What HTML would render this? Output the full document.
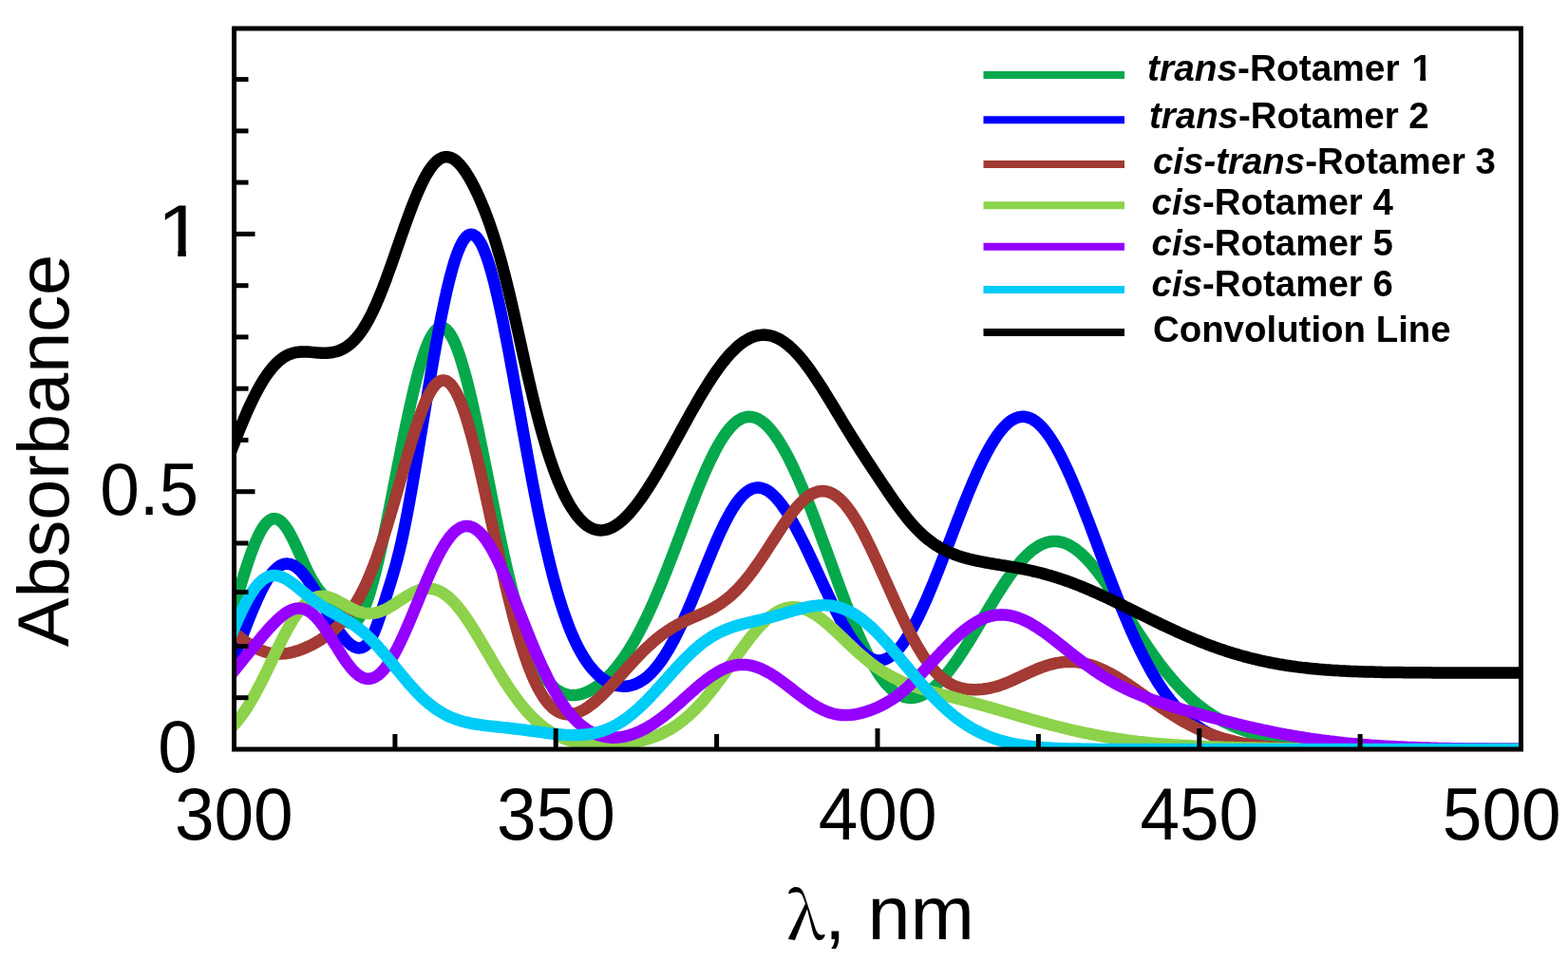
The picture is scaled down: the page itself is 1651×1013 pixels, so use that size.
<!DOCTYPE html>
<html><head><meta charset="utf-8"><title>Absorbance spectra</title>
<style>html,body{margin:0;padding:0;background:#fff;overflow:hidden;} svg{display:block;}</style>
</head><body>
<svg width="1651" height="1013" viewBox="0 0 1651 1013">
<rect x="0" y="0" width="1651" height="1013" fill="#fff"/>
<defs>
<clipPath id="pc"><rect x="246.5" y="30" width="1355.0" height="759"/></clipPath>
<clipPath id="c1"><rect x="-100" y="-200" width="200" height="193.41"/><rect x="-23.91" y="-20" width="7.45" height="40"/></clipPath>
<clipPath id="c1b_0"><rect x="270.95" y="-100" width="100" height="95.17"/><rect x="289.87" y="-20" width="6.02" height="40"/><rect x="-119.05" y="-100" width="390" height="200"/></clipPath></defs>
<g clip-path="url(#pc)" fill="none" stroke-width="12.5" stroke-linejoin="round" stroke-linecap="round">
<path d="M242.5 654.1 L244.5 647.2 L246.5 640.2 L248.5 633.3 L250.5 626.5 L252.5 619.7 L254.5 613.0 L256.5 606.4 L258.5 600.1 L260.5 593.9 L262.5 588.0 L264.5 582.3 L266.5 577.0 L268.5 572.0 L270.5 567.4 L272.5 563.1 L274.5 559.3 L276.5 556.0 L278.5 553.1 L280.5 550.7 L282.5 548.8 L284.5 547.4 L286.5 546.5 L288.5 546.1 L290.5 546.3 L292.5 546.9 L294.5 548.1 L296.5 549.7 L298.5 551.8 L300.5 554.3 L302.5 557.2 L304.5 560.5 L306.5 564.2 L308.5 568.1 L310.5 572.2 L312.5 576.5 L314.5 580.9 L316.5 585.4 L318.5 589.9 L320.5 594.3 L322.5 598.6 L324.5 602.7 L326.5 606.6 L328.5 610.2 L330.5 613.6 L332.5 616.7 L334.5 619.6 L336.5 622.3 L338.5 624.9 L340.5 627.2 L342.5 629.5 L344.5 631.8 L346.5 634.1 L348.5 636.4 L350.5 638.8 L352.5 641.2 L354.5 643.6 L356.5 646.1 L358.5 648.4 L360.5 650.6 L362.5 652.6 L364.5 654.2 L366.5 655.4 L368.5 656.1 L370.5 656.3 L372.5 655.8 L374.5 654.7 L376.5 652.9 L378.5 650.3 L380.5 647.0 L382.5 643.0 L384.5 638.3 L386.5 633.0 L388.5 627.1 L390.5 620.5 L392.5 613.5 L394.5 605.9 L396.5 597.9 L398.5 589.5 L400.5 580.8 L402.5 571.7 L404.5 562.3 L406.5 552.7 L408.5 542.9 L410.5 533.0 L412.5 522.9 L414.5 512.7 L416.5 502.5 L418.5 492.3 L420.5 482.2 L422.5 472.1 L424.5 462.1 L426.5 452.3 L428.5 442.8 L430.5 433.4 L432.5 424.3 L434.5 415.6 L436.5 407.2 L438.5 399.2 L440.5 391.7 L442.5 384.6 L444.5 378.0 L446.5 371.9 L448.5 366.4 L450.5 361.5 L452.5 357.1 L454.5 353.4 L456.5 350.4 L458.5 347.9 L460.5 346.2 L462.5 345.1 L464.5 344.7 L466.5 344.9 L468.5 345.9 L470.5 347.5 L472.5 349.7 L474.5 352.6 L476.5 356.1 L478.5 360.3 L480.5 365.0 L482.5 370.3 L484.5 376.2 L486.5 382.6 L488.5 389.4 L490.5 396.7 L492.5 404.4 L494.5 412.6 L496.5 421.0 L498.5 429.8 L500.5 438.9 L502.5 448.2 L504.5 457.7 L506.5 467.4 L508.5 477.2 L510.5 487.2 L512.5 497.1 L514.5 507.1 L516.5 517.1 L518.5 527.1 L520.5 537.0 L522.5 546.7 L524.5 556.4 L526.5 565.9 L528.5 575.2 L530.5 584.4 L532.5 593.3 L534.5 602.0 L536.5 610.4 L538.5 618.5 L540.5 626.4 L542.5 634.0 L544.5 641.3 L546.5 648.3 L548.5 655.0 L550.5 661.4 L552.5 667.4 L554.5 673.2 L556.5 678.6 L558.5 683.8 L560.5 688.6 L562.5 693.1 L564.5 697.4 L566.5 701.3 L568.5 705.0 L570.5 708.3 L572.5 711.5 L574.5 714.3 L576.5 716.9 L578.5 719.3 L580.5 721.4 L582.5 723.3 L584.5 725.0 L586.5 726.5 L588.5 727.8 L590.5 728.9 L592.5 729.9 L594.5 730.6 L596.5 731.2 L598.5 731.6 L600.5 731.9 L602.5 732.0 L604.5 732.0 L606.5 731.9 L608.5 731.6 L610.5 731.2 L612.5 730.7 L614.5 730.1 L616.5 729.4 L618.5 728.5 L620.5 727.6 L622.5 726.5 L624.5 725.4 L626.5 724.1 L628.5 722.7 L630.5 721.3 L632.5 719.7 L634.5 718.0 L636.5 716.3 L638.5 714.4 L640.5 712.4 L642.5 710.3 L644.5 708.2 L646.5 705.9 L648.5 703.5 L650.5 701.0 L652.5 698.4 L654.5 695.7 L656.5 692.9 L658.5 690.0 L660.5 687.0 L662.5 683.9 L664.5 680.6 L666.5 677.3 L668.5 673.8 L670.5 670.2 L672.5 666.5 L674.5 662.7 L676.5 658.8 L678.5 654.8 L680.5 650.7 L682.5 646.5 L684.5 642.1 L686.5 637.7 L688.5 633.2 L690.5 628.6 L692.5 623.9 L694.5 619.1 L696.5 614.3 L698.5 609.3 L700.5 604.3 L702.5 599.3 L704.5 594.1 L706.5 589.0 L708.5 583.8 L710.5 578.5 L712.5 573.2 L714.5 567.9 L716.5 562.6 L718.5 557.3 L720.5 552.0 L722.5 546.7 L724.5 541.4 L726.5 536.2 L728.5 531.0 L730.5 525.9 L732.5 520.8 L734.5 515.8 L736.5 510.9 L738.5 506.1 L740.5 501.3 L742.5 496.7 L744.5 492.2 L746.5 487.9 L748.5 483.6 L750.5 479.6 L752.5 475.6 L754.5 471.9 L756.5 468.3 L758.5 464.9 L760.5 461.7 L762.5 458.6 L764.5 455.8 L766.5 453.2 L768.5 450.8 L770.5 448.6 L772.5 446.6 L774.5 444.8 L776.5 443.3 L778.5 442.0 L780.5 440.9 L782.5 440.0 L784.5 439.4 L786.5 439.0 L788.5 438.8 L790.5 438.9 L792.5 439.2 L794.5 439.7 L796.5 440.4 L798.5 441.3 L800.5 442.5 L802.5 443.9 L804.5 445.4 L806.5 447.2 L808.5 449.2 L810.5 451.3 L812.5 453.7 L814.5 456.3 L816.5 459.0 L818.5 461.9 L820.5 464.9 L822.5 468.2 L824.5 471.6 L826.5 475.1 L828.5 478.8 L830.5 482.6 L832.5 486.6 L834.5 490.7 L836.5 495.0 L838.5 499.3 L840.5 503.8 L842.5 508.4 L844.5 513.0 L846.5 517.8 L848.5 522.7 L850.5 527.7 L852.5 532.7 L854.5 537.8 L856.5 543.0 L858.5 548.3 L860.5 553.6 L862.5 558.9 L864.5 564.3 L866.5 569.8 L868.5 575.2 L870.5 580.7 L872.5 586.2 L874.5 591.7 L876.5 597.2 L878.5 602.7 L880.5 608.2 L882.5 613.7 L884.5 619.1 L886.5 624.5 L888.5 629.8 L890.5 635.1 L892.5 640.3 L894.5 645.4 L896.5 650.5 L898.5 655.5 L900.5 660.3 L902.5 665.1 L904.5 669.7 L906.5 674.2 L908.5 678.6 L910.5 682.9 L912.5 687.0 L914.5 691.0 L916.5 694.8 L918.5 698.5 L920.5 702.0 L922.5 705.3 L924.5 708.5 L926.5 711.5 L928.5 714.3 L930.5 716.9 L932.5 719.4 L934.5 721.7 L936.5 723.7 L938.5 725.7 L940.5 727.4 L942.5 728.9 L944.5 730.3 L946.5 731.5 L948.5 732.5 L950.5 733.3 L952.5 734.0 L954.5 734.4 L956.5 734.8 L958.5 734.9 L960.5 734.9 L962.5 734.7 L964.5 734.3 L966.5 733.8 L968.5 733.1 L970.5 732.3 L972.5 731.4 L974.5 730.3 L976.5 729.0 L978.5 727.6 L980.5 726.1 L982.5 724.5 L984.5 722.8 L986.5 720.9 L988.5 718.9 L990.5 716.8 L992.5 714.6 L994.5 712.3 L996.5 709.9 L998.5 707.4 L1000.5 704.8 L1002.5 702.2 L1004.5 699.4 L1006.5 696.6 L1008.5 693.7 L1010.5 690.8 L1012.5 687.7 L1014.5 684.7 L1016.5 681.5 L1018.5 678.4 L1020.5 675.2 L1022.5 671.9 L1024.5 668.6 L1026.5 665.3 L1028.5 662.0 L1030.5 658.6 L1032.5 655.3 L1034.5 651.9 L1036.5 648.5 L1038.5 645.2 L1040.5 641.8 L1042.5 638.5 L1044.5 635.2 L1046.5 631.9 L1048.5 628.6 L1050.5 625.4 L1052.5 622.2 L1054.5 619.1 L1056.5 616.0 L1058.5 613.0 L1060.5 610.1 L1062.5 607.2 L1064.5 604.4 L1066.5 601.7 L1068.5 599.0 L1070.5 596.5 L1072.5 594.0 L1074.5 591.7 L1076.5 589.4 L1078.5 587.3 L1080.5 585.2 L1082.5 583.3 L1084.5 581.5 L1086.5 579.8 L1088.5 578.3 L1090.5 576.9 L1092.5 575.6 L1094.5 574.4 L1096.5 573.4 L1098.5 572.5 L1100.5 571.7 L1102.5 571.1 L1104.5 570.6 L1106.5 570.2 L1108.5 570.0 L1110.5 570.0 L1112.5 570.0 L1114.5 570.3 L1116.5 570.6 L1118.5 571.1 L1120.5 571.7 L1122.5 572.5 L1124.5 573.4 L1126.5 574.4 L1128.5 575.6 L1130.5 576.8 L1132.5 578.2 L1134.5 579.8 L1136.5 581.4 L1138.5 583.1 L1140.5 585.0 L1142.5 587.0 L1144.5 589.0 L1146.5 591.2 L1148.5 593.4 L1150.5 595.8 L1152.5 598.2 L1154.5 600.7 L1156.5 603.3 L1158.5 605.9 L1160.5 608.6 L1162.5 611.4 L1164.5 614.2 L1166.5 617.1 L1168.5 620.0 L1170.5 623.0 L1172.5 626.0 L1174.5 629.0 L1176.5 632.1 L1178.5 635.2 L1180.5 638.3 L1182.5 641.4 L1184.5 644.5 L1186.5 647.6 L1188.5 650.8 L1190.5 653.9 L1192.5 657.0 L1194.5 660.1 L1196.5 663.2 L1198.5 666.3 L1200.5 669.3 L1202.5 672.3 L1204.5 675.3 L1206.5 678.3 L1208.5 681.3 L1210.5 684.2 L1212.5 687.0 L1214.5 689.8 L1216.5 692.6 L1218.5 695.4 L1220.5 698.1 L1222.5 700.7 L1224.5 703.3 L1226.5 705.9 L1228.5 708.4 L1230.5 710.8 L1232.5 713.2 L1234.5 715.6 L1236.5 717.9 L1238.5 720.1 L1240.5 722.3 L1242.5 724.4 L1244.5 726.5 L1246.5 728.5 L1248.5 730.5 L1250.5 732.4 L1252.5 734.3 L1254.5 736.1 L1256.5 737.9 L1258.5 739.6 L1260.5 741.3 L1262.5 742.9 L1264.5 744.5 L1266.5 746.0 L1268.5 747.5 L1270.5 748.9 L1272.5 750.3 L1274.5 751.6 L1276.5 752.9 L1278.5 754.2 L1280.5 755.4 L1282.5 756.6 L1284.5 757.7 L1286.5 758.8 L1288.5 759.9 L1290.5 760.9 L1292.5 761.9 L1294.5 762.8 L1296.5 763.8 L1298.5 764.7 L1300.5 765.5 L1302.5 766.3 L1304.5 767.2 L1306.5 767.9 L1308.5 768.7 L1310.5 769.4 L1312.5 770.1 L1314.5 770.8 L1316.5 771.4 L1318.5 772.1 L1320.5 772.7 L1322.5 773.3 L1324.5 773.8 L1326.5 774.4 L1328.5 774.9 L1330.5 775.4 L1332.5 775.9 L1334.5 776.4 L1336.5 776.9 L1338.5 777.3 L1340.5 777.7 L1342.5 778.2 L1344.5 778.6 L1346.5 778.9 L1348.5 779.3 L1350.5 779.7 L1352.5 780.0 L1354.5 780.4 L1356.5 780.7 L1358.5 781.0 L1360.5 781.3 L1362.5 781.6 L1364.5 781.9 L1366.5 782.2 L1368.5 782.5 L1370.5 782.7 L1372.5 783.0 L1374.5 783.2 L1376.5 783.4 L1378.5 783.7 L1380.5 783.9 L1382.5 784.1 L1384.5 784.3 L1386.5 784.5 L1388.5 784.7 L1390.5 784.9 L1392.5 785.0 L1394.5 785.2 L1396.5 785.4 L1398.5 785.5 L1400.5 785.7 L1402.5 785.8 L1404.5 786.0 L1406.5 786.1 L1408.5 786.2 L1410.5 786.3 L1412.5 786.5 L1414.5 786.6 L1416.5 786.7 L1418.5 786.8 L1420.5 786.9 L1422.5 787.0 L1424.5 787.1 L1426.5 787.2 L1428.5 787.3 L1430.5 787.4 L1432.5 787.4 L1434.5 787.5 L1436.5 787.6 L1438.5 787.7 L1440.5 787.7 L1442.5 787.8 L1444.5 787.9 L1446.5 787.9 L1448.5 788.0 L1450.5 788.0 L1452.5 788.1 L1454.5 788.1 L1456.5 788.2 L1458.5 788.2 L1460.5 788.3 L1462.5 788.3 L1464.5 788.3 L1466.5 788.4 L1468.5 788.4 L1470.5 788.4 L1472.5 788.5 L1474.5 788.5 L1476.5 788.5 L1478.5 788.6 L1480.5 788.6 L1482.5 788.6 L1484.5 788.6 L1486.5 788.7 L1488.5 788.7 L1490.5 788.7 L1492.5 788.7 L1494.5 788.7 L1496.5 788.7 L1498.5 788.8 L1500.5 788.8 L1502.5 788.8 L1504.5 788.8 L1506.5 788.8 L1508.5 788.8 L1510.5 788.8 L1512.5 788.8 L1514.5 788.9 L1516.5 788.9 L1518.5 788.9 L1520.5 788.9 L1522.5 788.9 L1524.5 788.9 L1526.5 788.9 L1528.5 788.9 L1530.5 788.9 L1532.5 788.9 L1534.5 788.9 L1536.5 788.9 L1538.5 788.9 L1540.5 788.9 L1542.5 788.9 L1544.5 789.0 L1546.5 789.0 L1548.5 789.0 L1550.5 789.0 L1552.5 789.0 L1554.5 789.0 L1556.5 789.0 L1558.5 789.0 L1560.5 789.0 L1562.5 789.0 L1564.5 789.0 L1566.5 789.0 L1568.5 789.0 L1570.5 789.0 L1572.5 789.0 L1574.5 789.0 L1576.5 789.0 L1578.5 789.0 L1580.5 789.0 L1582.5 789.0 L1584.5 789.0 L1586.5 789.0 L1588.5 789.0 L1590.5 789.0 L1592.5 789.0 L1594.5 789.0 L1596.5 789.0 L1598.5 789.0 L1600.5 789.0 L1602.5 789.0 L1604.5 789.0" stroke="#05A94C"/>
<path d="M242.5 701.9 L244.5 697.0 L246.5 692.0 L248.5 686.9 L250.5 681.8 L252.5 676.6 L254.5 671.4 L256.5 666.3 L258.5 661.1 L260.5 656.0 L262.5 651.0 L264.5 646.0 L266.5 641.2 L268.5 636.5 L270.5 631.9 L272.5 627.6 L274.5 623.4 L276.5 619.4 L278.5 615.7 L280.5 612.2 L282.5 609.0 L284.5 606.1 L286.5 603.4 L288.5 601.1 L290.5 599.1 L292.5 597.3 L294.5 595.9 L296.5 594.9 L298.5 594.1 L300.5 593.7 L302.5 593.6 L304.5 593.9 L306.5 594.4 L308.5 595.2 L310.5 596.3 L312.5 597.8 L314.5 599.4 L316.5 601.3 L318.5 603.5 L320.5 605.8 L322.5 608.4 L324.5 611.2 L326.5 614.1 L328.5 617.1 L330.5 620.3 L332.5 623.6 L334.5 627.0 L336.5 630.4 L338.5 633.9 L340.5 637.4 L342.5 641.0 L344.5 644.5 L346.5 647.9 L348.5 651.4 L350.5 654.7 L352.5 658.0 L354.5 661.1 L356.5 664.1 L358.5 667.0 L360.5 669.6 L362.5 672.1 L364.5 674.4 L366.5 676.4 L368.5 678.2 L370.5 679.7 L372.5 680.9 L374.5 681.7 L376.5 682.3 L378.5 682.4 L380.5 682.1 L382.5 681.3 L384.5 680.1 L386.5 678.2 L388.5 675.8 L390.5 672.6 L392.5 668.8 L394.5 664.4 L396.5 659.3 L398.5 653.7 L400.5 647.7 L402.5 641.4 L404.5 635.0 L406.5 628.6 L408.5 622.2 L410.5 615.8 L412.5 609.3 L414.5 602.6 L416.5 595.6 L418.5 588.1 L420.5 580.1 L422.5 571.6 L424.5 562.4 L426.5 552.6 L428.5 542.4 L430.5 531.7 L432.5 520.6 L434.5 509.2 L436.5 497.5 L438.5 485.6 L440.5 473.6 L442.5 461.5 L444.5 449.4 L446.5 437.2 L448.5 425.1 L450.5 413.0 L452.5 401.0 L454.5 389.3 L456.5 377.7 L458.5 366.4 L460.5 355.3 L462.5 344.6 L464.5 334.3 L466.5 324.4 L468.5 314.9 L470.5 305.9 L472.5 297.5 L474.5 289.6 L476.5 282.3 L478.5 275.6 L480.5 269.6 L482.5 264.2 L484.5 259.5 L486.5 255.6 L488.5 252.3 L490.5 249.8 L492.5 248.1 L494.5 247.0 L496.5 246.8 L498.5 247.3 L500.5 248.5 L502.5 250.5 L504.5 253.2 L506.5 256.5 L508.5 260.6 L510.5 265.4 L512.5 270.8 L514.5 276.8 L516.5 283.4 L518.5 290.6 L520.5 298.3 L522.5 306.5 L524.5 315.2 L526.5 324.3 L528.5 333.7 L530.5 343.6 L532.5 353.7 L534.5 364.1 L536.5 374.7 L538.5 385.5 L540.5 396.5 L542.5 407.6 L544.5 418.7 L546.5 429.9 L548.5 441.1 L550.5 452.3 L552.5 463.4 L554.5 474.5 L556.5 485.4 L558.5 496.2 L560.5 506.8 L562.5 517.2 L564.5 527.4 L566.5 537.4 L568.5 547.2 L570.5 556.6 L572.5 565.9 L574.5 574.8 L576.5 583.4 L578.5 591.8 L580.5 599.8 L582.5 607.6 L584.5 615.0 L586.5 622.1 L588.5 628.9 L590.5 635.4 L592.5 641.6 L594.5 647.6 L596.5 653.2 L598.5 658.5 L600.5 663.6 L602.5 668.4 L604.5 672.9 L606.5 677.1 L608.5 681.2 L610.5 684.9 L612.5 688.5 L614.5 691.8 L616.5 694.9 L618.5 697.9 L620.5 700.6 L622.5 703.1 L624.5 705.4 L626.5 707.6 L628.5 709.6 L630.5 711.5 L632.5 713.2 L634.5 714.7 L636.5 716.1 L638.5 717.3 L640.5 718.5 L642.5 719.4 L644.5 720.3 L646.5 721.0 L648.5 721.6 L650.5 722.1 L652.5 722.4 L654.5 722.6 L656.5 722.7 L658.5 722.7 L660.5 722.5 L662.5 722.2 L664.5 721.7 L666.5 721.2 L668.5 720.5 L670.5 719.7 L672.5 718.7 L674.5 717.6 L676.5 716.3 L678.5 714.9 L680.5 713.4 L682.5 711.7 L684.5 709.8 L686.5 707.8 L688.5 705.7 L690.5 703.4 L692.5 700.9 L694.5 698.3 L696.5 695.5 L698.5 692.6 L700.5 689.6 L702.5 686.3 L704.5 683.0 L706.5 679.4 L708.5 675.8 L710.5 672.0 L712.5 668.0 L714.5 664.0 L716.5 659.8 L718.5 655.5 L720.5 651.1 L722.5 646.6 L724.5 642.0 L726.5 637.3 L728.5 632.6 L730.5 627.7 L732.5 622.9 L734.5 617.9 L736.5 613.0 L738.5 608.0 L740.5 603.1 L742.5 598.1 L744.5 593.2 L746.5 588.3 L748.5 583.5 L750.5 578.7 L752.5 574.0 L754.5 569.3 L756.5 564.8 L758.5 560.4 L760.5 556.2 L762.5 552.1 L764.5 548.1 L766.5 544.3 L768.5 540.7 L770.5 537.2 L772.5 534.0 L774.5 531.0 L776.5 528.2 L778.5 525.6 L780.5 523.3 L782.5 521.2 L784.5 519.4 L786.5 517.7 L788.5 516.4 L790.5 515.3 L792.5 514.5 L794.5 513.9 L796.5 513.6 L798.5 513.5 L800.5 513.7 L802.5 514.1 L804.5 514.8 L806.5 515.7 L808.5 516.8 L810.5 518.2 L812.5 519.8 L814.5 521.6 L816.5 523.6 L818.5 525.8 L820.5 528.2 L822.5 530.7 L824.5 533.5 L826.5 536.4 L828.5 539.4 L830.5 542.6 L832.5 546.0 L834.5 549.4 L836.5 553.0 L838.5 556.7 L840.5 560.5 L842.5 564.3 L844.5 568.3 L846.5 572.3 L848.5 576.4 L850.5 580.5 L852.5 584.7 L854.5 589.0 L856.5 593.2 L858.5 597.5 L860.5 601.8 L862.5 606.1 L864.5 610.5 L866.5 614.8 L868.5 619.1 L870.5 623.3 L872.5 627.6 L874.5 631.8 L876.5 635.9 L878.5 640.0 L880.5 644.0 L882.5 647.9 L884.5 651.8 L886.5 655.5 L888.5 659.1 L890.5 662.6 L892.5 666.0 L894.5 669.2 L896.5 672.3 L898.5 675.2 L900.5 678.0 L902.5 680.6 L904.5 683.0 L906.5 685.2 L908.5 687.2 L910.5 689.0 L912.5 690.6 L914.5 692.0 L916.5 693.1 L918.5 694.0 L920.5 694.7 L922.5 695.2 L924.5 695.4 L926.5 695.4 L928.5 695.2 L930.5 694.7 L932.5 694.0 L934.5 693.1 L936.5 692.0 L938.5 690.6 L940.5 689.0 L942.5 687.2 L944.5 685.2 L946.5 682.9 L948.5 680.5 L950.5 677.9 L952.5 675.0 L954.5 672.0 L956.5 668.8 L958.5 665.5 L960.5 661.9 L962.5 658.3 L964.5 654.4 L966.5 650.5 L968.5 646.3 L970.5 642.1 L972.5 637.7 L974.5 633.3 L976.5 628.7 L978.5 624.0 L980.5 619.2 L982.5 614.4 L984.5 609.4 L986.5 604.4 L988.5 599.4 L990.5 594.3 L992.5 589.1 L994.5 583.9 L996.5 578.7 L998.5 573.5 L1000.5 568.2 L1002.5 563.0 L1004.5 557.8 L1006.5 552.5 L1008.5 547.3 L1010.5 542.2 L1012.5 537.0 L1014.5 531.9 L1016.5 526.9 L1018.5 522.0 L1020.5 517.1 L1022.5 512.3 L1024.5 507.5 L1026.5 502.9 L1028.5 498.4 L1030.5 494.0 L1032.5 489.7 L1034.5 485.6 L1036.5 481.6 L1038.5 477.7 L1040.5 474.0 L1042.5 470.4 L1044.5 467.0 L1046.5 463.7 L1048.5 460.7 L1050.5 457.8 L1052.5 455.1 L1054.5 452.6 L1056.5 450.3 L1058.5 448.2 L1060.5 446.3 L1062.5 444.6 L1064.5 443.1 L1066.5 441.8 L1068.5 440.8 L1070.5 439.9 L1072.5 439.3 L1074.5 438.9 L1076.5 438.8 L1078.5 438.8 L1080.5 439.1 L1082.5 439.6 L1084.5 440.3 L1086.5 441.2 L1088.5 442.4 L1090.5 443.7 L1092.5 445.3 L1094.5 447.1 L1096.5 449.1 L1098.5 451.3 L1100.5 453.7 L1102.5 456.3 L1104.5 459.1 L1106.5 462.0 L1108.5 465.2 L1110.5 468.5 L1112.5 472.0 L1114.5 475.6 L1116.5 479.4 L1118.5 483.4 L1120.5 487.5 L1122.5 491.7 L1124.5 496.0 L1126.5 500.5 L1128.5 505.1 L1130.5 509.8 L1132.5 514.6 L1134.5 519.4 L1136.5 524.4 L1138.5 529.4 L1140.5 534.5 L1142.5 539.7 L1144.5 544.9 L1146.5 550.1 L1148.5 555.4 L1150.5 560.7 L1152.5 566.0 L1154.5 571.4 L1156.5 576.7 L1158.5 582.1 L1160.5 587.4 L1162.5 592.8 L1164.5 598.1 L1166.5 603.4 L1168.5 608.6 L1170.5 613.8 L1172.5 619.0 L1174.5 624.1 L1176.5 629.2 L1178.5 634.2 L1180.5 639.2 L1182.5 644.0 L1184.5 648.9 L1186.5 653.6 L1188.5 658.3 L1190.5 662.9 L1192.5 667.4 L1194.5 671.8 L1196.5 676.1 L1198.5 680.3 L1200.5 684.5 L1202.5 688.5 L1204.5 692.5 L1206.5 696.3 L1208.5 700.1 L1210.5 703.8 L1212.5 707.3 L1214.5 710.8 L1216.5 714.1 L1218.5 717.4 L1220.5 720.6 L1222.5 723.6 L1224.5 726.6 L1226.5 729.5 L1228.5 732.3 L1230.5 734.9 L1232.5 737.5 L1234.5 740.0 L1236.5 742.4 L1238.5 744.7 L1240.5 747.0 L1242.5 749.1 L1244.5 751.1 L1246.5 753.1 L1248.5 755.0 L1250.5 756.8 L1252.5 758.6 L1254.5 760.2 L1256.5 761.8 L1258.5 763.3 L1260.5 764.8 L1262.5 766.1 L1264.5 767.4 L1266.5 768.7 L1268.5 769.9 L1270.5 771.0 L1272.5 772.1 L1274.5 773.1 L1276.5 774.1 L1278.5 775.0 L1280.5 775.9 L1282.5 776.7 L1284.5 777.5 L1286.5 778.2 L1288.5 778.9 L1290.5 779.6 L1292.5 780.2 L1294.5 780.8 L1296.5 781.3 L1298.5 781.9 L1300.5 782.3 L1302.5 782.8 L1304.5 783.2 L1306.5 783.6 L1308.5 784.0 L1310.5 784.4 L1312.5 784.7 L1314.5 785.0 L1316.5 785.3 L1318.5 785.6 L1320.5 785.8 L1322.5 786.1 L1324.5 786.3 L1326.5 786.5 L1328.5 786.7 L1330.5 786.9 L1332.5 787.0 L1334.5 787.2 L1336.5 787.3 L1338.5 787.5 L1340.5 787.6 L1342.5 787.7 L1344.5 787.8 L1346.5 787.9 L1348.5 788.0 L1350.5 788.1 L1352.5 788.1 L1354.5 788.2 L1356.5 788.3 L1358.5 788.3 L1360.5 788.4 L1362.5 788.5 L1364.5 788.5 L1366.5 788.5 L1368.5 788.6 L1370.5 788.6 L1372.5 788.7 L1374.5 788.7 L1376.5 788.7 L1378.5 788.7 L1380.5 788.8 L1382.5 788.8 L1384.5 788.8 L1386.5 788.8 L1388.5 788.8 L1390.5 788.9 L1392.5 788.9 L1394.5 788.9 L1396.5 788.9 L1398.5 788.9 L1400.5 788.9 L1402.5 788.9 L1404.5 788.9 L1406.5 788.9 L1408.5 788.9 L1410.5 788.9 L1412.5 789.0 L1414.5 789.0 L1416.5 789.0 L1418.5 789.0 L1420.5 789.0 L1422.5 789.0 L1424.5 789.0 L1426.5 789.0 L1428.5 789.0 L1430.5 789.0 L1432.5 789.0 L1434.5 789.0 L1436.5 789.0 L1438.5 789.0 L1440.5 789.0 L1442.5 789.0 L1444.5 789.0 L1446.5 789.0 L1448.5 789.0 L1450.5 789.0 L1452.5 789.0 L1454.5 789.0 L1456.5 789.0 L1458.5 789.0 L1460.5 789.0 L1462.5 789.0 L1464.5 789.0 L1466.5 789.0 L1468.5 789.0 L1470.5 789.0 L1472.5 789.0 L1474.5 789.0 L1476.5 789.0 L1478.5 789.0 L1480.5 789.0 L1482.5 789.0 L1484.5 789.0 L1486.5 789.0 L1488.5 789.0 L1490.5 789.0 L1492.5 789.0 L1494.5 789.0 L1496.5 789.0 L1498.5 789.0 L1500.5 789.0 L1502.5 789.0 L1504.5 789.0 L1506.5 789.0 L1508.5 789.0 L1510.5 789.0 L1512.5 789.0 L1514.5 789.0 L1516.5 789.0 L1518.5 789.0 L1520.5 789.0 L1522.5 789.0 L1524.5 789.0 L1526.5 789.0 L1528.5 789.0 L1530.5 789.0 L1532.5 789.0 L1534.5 789.0 L1536.5 789.0 L1538.5 789.0 L1540.5 789.0 L1542.5 789.0 L1544.5 789.0 L1546.5 789.0 L1548.5 789.0 L1550.5 789.0 L1552.5 789.0 L1554.5 789.0 L1556.5 789.0 L1558.5 789.0 L1560.5 789.0 L1562.5 789.0 L1564.5 789.0 L1566.5 789.0 L1568.5 789.0 L1570.5 789.0 L1572.5 789.0 L1574.5 789.0 L1576.5 789.0 L1578.5 789.0 L1580.5 789.0 L1582.5 789.0 L1584.5 789.0 L1586.5 789.0 L1588.5 789.0 L1590.5 789.0 L1592.5 789.0 L1594.5 789.0 L1596.5 789.0 L1598.5 789.0 L1600.5 789.0 L1602.5 789.0 L1604.5 789.0" stroke="#0000FF"/>
<path d="M242.5 662.6 L244.5 664.3 L246.5 666.1 L248.5 667.8 L250.5 669.4 L252.5 671.0 L254.5 672.6 L256.5 674.1 L258.5 675.6 L260.5 677.0 L262.5 678.3 L264.5 679.6 L266.5 680.8 L268.5 681.9 L270.5 682.9 L272.5 683.9 L274.5 684.7 L276.5 685.5 L278.5 686.2 L280.5 686.8 L282.5 687.3 L284.5 687.7 L286.5 688.1 L288.5 688.3 L290.5 688.5 L292.5 688.6 L294.5 688.6 L296.5 688.6 L298.5 688.4 L300.5 688.2 L302.5 687.9 L304.5 687.6 L306.5 687.2 L308.5 686.7 L310.5 686.1 L312.5 685.5 L314.5 684.9 L316.5 684.2 L318.5 683.4 L320.5 682.6 L322.5 681.7 L324.5 680.8 L326.5 679.9 L328.5 678.9 L330.5 677.8 L332.5 676.7 L334.5 675.6 L336.5 674.4 L338.5 673.1 L340.5 671.8 L342.5 670.4 L344.5 669.0 L346.5 667.5 L348.5 665.9 L350.5 664.3 L352.5 662.5 L354.5 660.7 L356.5 658.7 L358.5 656.7 L360.5 654.5 L362.5 652.2 L364.5 649.8 L366.5 647.2 L368.5 644.5 L370.5 641.7 L372.5 638.6 L374.5 635.4 L376.5 632.1 L378.5 628.5 L380.5 624.7 L382.5 620.8 L384.5 616.6 L386.5 612.3 L388.5 607.7 L390.5 602.9 L392.5 597.9 L394.5 592.8 L396.5 587.3 L398.5 581.7 L400.5 575.9 L402.5 570.0 L404.5 563.8 L406.5 557.4 L408.5 550.9 L410.5 544.3 L412.5 537.5 L414.5 530.7 L416.5 523.7 L418.5 516.7 L420.5 509.6 L422.5 502.6 L424.5 495.5 L426.5 488.5 L428.5 481.5 L430.5 474.6 L432.5 467.8 L434.5 461.2 L436.5 454.8 L438.5 448.6 L440.5 442.7 L442.5 437.0 L444.5 431.6 L446.5 426.6 L448.5 422.0 L450.5 417.7 L452.5 413.8 L454.5 410.4 L456.5 407.5 L458.5 405.0 L460.5 403.1 L462.5 401.7 L464.5 400.8 L466.5 400.4 L468.5 400.6 L470.5 401.4 L472.5 402.7 L474.5 404.6 L476.5 407.0 L478.5 410.0 L480.5 413.5 L482.5 417.5 L484.5 422.1 L486.5 427.1 L488.5 432.7 L490.5 438.6 L492.5 445.1 L494.5 451.9 L496.5 459.0 L498.5 466.6 L500.5 474.4 L502.5 482.6 L504.5 491.0 L506.5 499.6 L508.5 508.4 L510.5 517.3 L512.5 526.4 L514.5 535.6 L516.5 544.8 L518.5 554.0 L520.5 563.3 L522.5 572.5 L524.5 581.6 L526.5 590.6 L528.5 599.6 L530.5 608.4 L532.5 617.0 L534.5 625.4 L536.5 633.6 L538.5 641.6 L540.5 649.4 L542.5 656.9 L544.5 664.1 L546.5 671.1 L548.5 677.8 L550.5 684.2 L552.5 690.3 L554.5 696.0 L556.5 701.5 L558.5 706.7 L560.5 711.6 L562.5 716.1 L564.5 720.4 L566.5 724.4 L568.5 728.0 L570.5 731.4 L572.5 734.5 L574.5 737.3 L576.5 739.9 L578.5 742.2 L580.5 744.2 L582.5 746.0 L584.5 747.5 L586.5 748.8 L588.5 749.9 L590.5 750.8 L592.5 751.4 L594.5 751.9 L596.5 752.2 L598.5 752.3 L600.5 752.2 L602.5 751.9 L604.5 751.5 L606.5 751.0 L608.5 750.3 L610.5 749.5 L612.5 748.5 L614.5 747.5 L616.5 746.3 L618.5 745.0 L620.5 743.6 L622.5 742.1 L624.5 740.5 L626.5 738.9 L628.5 737.2 L630.5 735.4 L632.5 733.5 L634.5 731.6 L636.5 729.6 L638.5 727.5 L640.5 725.5 L642.5 723.4 L644.5 721.2 L646.5 719.1 L648.5 716.9 L650.5 714.7 L652.5 712.4 L654.5 710.2 L656.5 708.0 L658.5 705.7 L660.5 703.5 L662.5 701.3 L664.5 699.1 L666.5 696.9 L668.5 694.8 L670.5 692.6 L672.5 690.5 L674.5 688.5 L676.5 686.4 L678.5 684.4 L680.5 682.5 L682.5 680.6 L684.5 678.8 L686.5 677.0 L688.5 675.2 L690.5 673.5 L692.5 671.9 L694.5 670.3 L696.5 668.8 L698.5 667.3 L700.5 665.9 L702.5 664.5 L704.5 663.2 L706.5 661.9 L708.5 660.7 L710.5 659.6 L712.5 658.4 L714.5 657.4 L716.5 656.3 L718.5 655.3 L720.5 654.4 L722.5 653.4 L724.5 652.5 L726.5 651.6 L728.5 650.8 L730.5 649.9 L732.5 649.0 L734.5 648.2 L736.5 647.3 L738.5 646.4 L740.5 645.5 L742.5 644.6 L744.5 643.6 L746.5 642.6 L748.5 641.6 L750.5 640.5 L752.5 639.4 L754.5 638.2 L756.5 637.0 L758.5 635.7 L760.5 634.3 L762.5 632.8 L764.5 631.3 L766.5 629.7 L768.5 628.1 L770.5 626.3 L772.5 624.4 L774.5 622.5 L776.5 620.5 L778.5 618.4 L780.5 616.2 L782.5 613.9 L784.5 611.5 L786.5 609.1 L788.5 606.6 L790.5 604.0 L792.5 601.3 L794.5 598.5 L796.5 595.7 L798.5 592.9 L800.5 589.9 L802.5 587.0 L804.5 584.0 L806.5 580.9 L808.5 577.8 L810.5 574.7 L812.5 571.6 L814.5 568.5 L816.5 565.5 L818.5 562.4 L820.5 559.3 L822.5 556.3 L824.5 553.3 L826.5 550.4 L828.5 547.6 L830.5 544.8 L832.5 542.1 L834.5 539.5 L836.5 537.0 L838.5 534.6 L840.5 532.3 L842.5 530.2 L844.5 528.2 L846.5 526.3 L848.5 524.6 L850.5 523.0 L852.5 521.7 L854.5 520.4 L856.5 519.4 L858.5 518.6 L860.5 517.9 L862.5 517.4 L864.5 517.2 L866.5 517.1 L868.5 517.2 L870.5 517.6 L872.5 518.1 L874.5 518.9 L876.5 519.8 L878.5 521.0 L880.5 522.3 L882.5 523.9 L884.5 525.6 L886.5 527.6 L888.5 529.7 L890.5 532.0 L892.5 534.6 L894.5 537.2 L896.5 540.1 L898.5 543.1 L900.5 546.3 L902.5 549.6 L904.5 553.0 L906.5 556.6 L908.5 560.3 L910.5 564.2 L912.5 568.1 L914.5 572.2 L916.5 576.3 L918.5 580.5 L920.5 584.8 L922.5 589.1 L924.5 593.5 L926.5 597.9 L928.5 602.4 L930.5 606.8 L932.5 611.3 L934.5 615.8 L936.5 620.3 L938.5 624.8 L940.5 629.2 L942.5 633.7 L944.5 638.0 L946.5 642.4 L948.5 646.7 L950.5 650.9 L952.5 655.0 L954.5 659.1 L956.5 663.1 L958.5 667.0 L960.5 670.8 L962.5 674.4 L964.5 678.0 L966.5 681.5 L968.5 684.8 L970.5 688.1 L972.5 691.2 L974.5 694.1 L976.5 697.0 L978.5 699.7 L980.5 702.2 L982.5 704.6 L984.5 706.9 L986.5 709.0 L988.5 711.0 L990.5 712.9 L992.5 714.6 L994.5 716.1 L996.5 717.6 L998.5 718.9 L1000.5 720.0 L1002.5 721.1 L1004.5 722.0 L1006.5 722.8 L1008.5 723.5 L1010.5 724.2 L1012.5 724.7 L1014.5 725.1 L1016.5 725.5 L1018.5 725.8 L1020.5 726.0 L1022.5 726.1 L1024.5 726.2 L1026.5 726.2 L1028.5 726.2 L1030.5 726.1 L1032.5 726.0 L1034.5 725.8 L1036.5 725.5 L1038.5 725.2 L1040.5 724.9 L1042.5 724.5 L1044.5 724.0 L1046.5 723.5 L1048.5 723.0 L1050.5 722.4 L1052.5 721.8 L1054.5 721.1 L1056.5 720.4 L1058.5 719.6 L1060.5 718.8 L1062.5 718.0 L1064.5 717.1 L1066.5 716.2 L1068.5 715.3 L1070.5 714.4 L1072.5 713.5 L1074.5 712.5 L1076.5 711.6 L1078.5 710.6 L1080.5 709.7 L1082.5 708.8 L1084.5 707.9 L1086.5 707.0 L1088.5 706.1 L1090.5 705.2 L1092.5 704.4 L1094.5 703.6 L1096.5 702.8 L1098.5 702.1 L1100.5 701.4 L1102.5 700.8 L1104.5 700.2 L1106.5 699.6 L1108.5 699.1 L1110.5 698.6 L1112.5 698.2 L1114.5 697.9 L1116.5 697.6 L1118.5 697.3 L1120.5 697.1 L1122.5 697.0 L1124.5 696.9 L1126.5 696.9 L1128.5 696.9 L1130.5 697.0 L1132.5 697.1 L1134.5 697.3 L1136.5 697.6 L1138.5 697.9 L1140.5 698.3 L1142.5 698.7 L1144.5 699.2 L1146.5 699.7 L1148.5 700.3 L1150.5 700.9 L1152.5 701.6 L1154.5 702.4 L1156.5 703.2 L1158.5 704.0 L1160.5 704.9 L1162.5 705.8 L1164.5 706.8 L1166.5 707.8 L1168.5 708.8 L1170.5 709.9 L1172.5 711.1 L1174.5 712.2 L1176.5 713.4 L1178.5 714.6 L1180.5 715.9 L1182.5 717.1 L1184.5 718.4 L1186.5 719.8 L1188.5 721.1 L1190.5 722.5 L1192.5 723.8 L1194.5 725.2 L1196.5 726.6 L1198.5 728.0 L1200.5 729.4 L1202.5 730.8 L1204.5 732.2 L1206.5 733.7 L1208.5 735.1 L1210.5 736.5 L1212.5 737.9 L1214.5 739.3 L1216.5 740.7 L1218.5 742.1 L1220.5 743.5 L1222.5 744.9 L1224.5 746.2 L1226.5 747.5 L1228.5 748.9 L1230.5 750.2 L1232.5 751.5 L1234.5 752.7 L1236.5 754.0 L1238.5 755.2 L1240.5 756.4 L1242.5 757.6 L1244.5 758.8 L1246.5 759.9 L1248.5 761.0 L1250.5 762.1 L1252.5 763.2 L1254.5 764.2 L1256.5 765.2 L1258.5 766.2 L1260.5 767.1 L1262.5 768.1 L1264.5 769.0 L1266.5 769.8 L1268.5 770.7 L1270.5 771.5 L1272.5 772.3 L1274.5 773.1 L1276.5 773.8 L1278.5 774.6 L1280.5 775.2 L1282.5 775.9 L1284.5 776.6 L1286.5 777.2 L1288.5 777.8 L1290.5 778.4 L1292.5 778.9 L1294.5 779.4 L1296.5 779.9 L1298.5 780.4 L1300.5 780.9 L1302.5 781.3 L1304.5 781.8 L1306.5 782.2 L1308.5 782.6 L1310.5 782.9 L1312.5 783.3 L1314.5 783.6 L1316.5 783.9 L1318.5 784.2 L1320.5 784.5 L1322.5 784.8 L1324.5 785.1 L1326.5 785.3 L1328.5 785.5 L1330.5 785.8 L1332.5 786.0 L1334.5 786.2 L1336.5 786.3 L1338.5 786.5 L1340.5 786.7 L1342.5 786.8 L1344.5 787.0 L1346.5 787.1 L1348.5 787.2 L1350.5 787.4 L1352.5 787.5 L1354.5 787.6 L1356.5 787.7 L1358.5 787.8 L1360.5 787.9 L1362.5 788.0 L1364.5 788.0 L1366.5 788.1 L1368.5 788.2 L1370.5 788.2 L1372.5 788.3 L1374.5 788.3 L1376.5 788.4 L1378.5 788.4 L1380.5 788.5 L1382.5 788.5 L1384.5 788.6 L1386.5 788.6 L1388.5 788.6 L1390.5 788.7 L1392.5 788.7 L1394.5 788.7 L1396.5 788.7 L1398.5 788.8 L1400.5 788.8 L1402.5 788.8 L1404.5 788.8 L1406.5 788.8 L1408.5 788.8 L1410.5 788.9 L1412.5 788.9 L1414.5 788.9 L1416.5 788.9 L1418.5 788.9 L1420.5 788.9 L1422.5 788.9 L1424.5 788.9 L1426.5 788.9 L1428.5 788.9 L1430.5 788.9 L1432.5 789.0 L1434.5 789.0 L1436.5 789.0 L1438.5 789.0 L1440.5 789.0 L1442.5 789.0 L1444.5 789.0 L1446.5 789.0 L1448.5 789.0 L1450.5 789.0 L1452.5 789.0 L1454.5 789.0 L1456.5 789.0 L1458.5 789.0 L1460.5 789.0 L1462.5 789.0 L1464.5 789.0 L1466.5 789.0 L1468.5 789.0 L1470.5 789.0 L1472.5 789.0 L1474.5 789.0 L1476.5 789.0 L1478.5 789.0 L1480.5 789.0 L1482.5 789.0 L1484.5 789.0 L1486.5 789.0 L1488.5 789.0 L1490.5 789.0 L1492.5 789.0 L1494.5 789.0 L1496.5 789.0 L1498.5 789.0 L1500.5 789.0 L1502.5 789.0 L1504.5 789.0 L1506.5 789.0 L1508.5 789.0 L1510.5 789.0 L1512.5 789.0 L1514.5 789.0 L1516.5 789.0 L1518.5 789.0 L1520.5 789.0 L1522.5 789.0 L1524.5 789.0 L1526.5 789.0 L1528.5 789.0 L1530.5 789.0 L1532.5 789.0 L1534.5 789.0 L1536.5 789.0 L1538.5 789.0 L1540.5 789.0 L1542.5 789.0 L1544.5 789.0 L1546.5 789.0 L1548.5 789.0 L1550.5 789.0 L1552.5 789.0 L1554.5 789.0 L1556.5 789.0 L1558.5 789.0 L1560.5 789.0 L1562.5 789.0 L1564.5 789.0 L1566.5 789.0 L1568.5 789.0 L1570.5 789.0 L1572.5 789.0 L1574.5 789.0 L1576.5 789.0 L1578.5 789.0 L1580.5 789.0 L1582.5 789.0 L1584.5 789.0 L1586.5 789.0 L1588.5 789.0 L1590.5 789.0 L1592.5 789.0 L1594.5 789.0 L1596.5 789.0 L1598.5 789.0 L1600.5 789.0 L1602.5 789.0 L1604.5 789.0" stroke="#A33A34"/>
<path d="M242.5 767.3 L244.5 765.3 L246.5 763.2 L248.5 760.9 L250.5 758.5 L252.5 756.0 L254.5 753.3 L256.5 750.5 L258.5 747.6 L260.5 744.5 L262.5 741.3 L264.5 737.9 L266.5 734.5 L268.5 730.9 L270.5 727.2 L272.5 723.4 L274.5 719.6 L276.5 715.6 L278.5 711.6 L280.5 707.5 L282.5 703.4 L284.5 699.2 L286.5 695.0 L288.5 690.9 L290.5 686.7 L292.5 682.6 L294.5 678.5 L296.5 674.5 L298.5 670.5 L300.5 666.7 L302.5 663.0 L304.5 659.4 L306.5 655.9 L308.5 652.6 L310.5 649.5 L312.5 646.6 L314.5 643.8 L316.5 641.3 L318.5 638.9 L320.5 636.8 L322.5 634.9 L324.5 633.2 L326.5 631.8 L328.5 630.6 L330.5 629.6 L332.5 628.8 L334.5 628.3 L336.5 627.9 L338.5 627.8 L340.5 627.8 L342.5 628.0 L344.5 628.4 L346.5 628.9 L348.5 629.6 L350.5 630.4 L352.5 631.3 L354.5 632.2 L356.5 633.3 L358.5 634.3 L360.5 635.5 L362.5 636.6 L364.5 637.7 L366.5 638.8 L368.5 639.9 L370.5 640.9 L372.5 641.9 L374.5 642.8 L376.5 643.6 L378.5 644.3 L380.5 644.8 L382.5 645.3 L384.5 645.7 L386.5 645.9 L388.5 646.0 L390.5 646.0 L392.5 645.8 L394.5 645.5 L396.5 645.1 L398.5 644.6 L400.5 643.9 L402.5 643.1 L404.5 642.3 L406.5 641.3 L408.5 640.3 L410.5 639.1 L412.5 637.9 L414.5 636.7 L416.5 635.4 L418.5 634.1 L420.5 632.8 L422.5 631.5 L424.5 630.2 L426.5 628.9 L428.5 627.7 L430.5 626.5 L432.5 625.4 L434.5 624.3 L436.5 623.3 L438.5 622.5 L440.5 621.7 L442.5 621.0 L444.5 620.5 L446.5 620.1 L448.5 619.9 L450.5 619.8 L452.5 619.8 L454.5 620.0 L456.5 620.3 L458.5 620.9 L460.5 621.5 L462.5 622.4 L464.5 623.4 L466.5 624.6 L468.5 625.9 L470.5 627.4 L472.5 629.0 L474.5 630.8 L476.5 632.8 L478.5 634.9 L480.5 637.1 L482.5 639.5 L484.5 642.0 L486.5 644.6 L488.5 647.3 L490.5 650.2 L492.5 653.1 L494.5 656.1 L496.5 659.2 L498.5 662.4 L500.5 665.6 L502.5 668.9 L504.5 672.2 L506.5 675.6 L508.5 679.0 L510.5 682.4 L512.5 685.8 L514.5 689.2 L516.5 692.6 L518.5 696.1 L520.5 699.4 L522.5 702.8 L524.5 706.1 L526.5 709.4 L528.5 712.7 L530.5 715.9 L532.5 719.0 L534.5 722.1 L536.5 725.1 L538.5 728.1 L540.5 730.9 L542.5 733.7 L544.5 736.4 L546.5 739.1 L548.5 741.6 L550.5 744.1 L552.5 746.5 L554.5 748.8 L556.5 751.0 L558.5 753.2 L560.5 755.2 L562.5 757.2 L564.5 759.0 L566.5 760.8 L568.5 762.5 L570.5 764.2 L572.5 765.7 L574.5 767.2 L576.5 768.5 L578.5 769.8 L580.5 771.1 L582.5 772.2 L584.5 773.3 L586.5 774.4 L588.5 775.3 L590.5 776.2 L592.5 777.1 L594.5 777.9 L596.5 778.6 L598.5 779.3 L600.5 779.9 L602.5 780.4 L604.5 781.0 L606.5 781.5 L608.5 781.9 L610.5 782.3 L612.5 782.7 L614.5 783.0 L616.5 783.3 L618.5 783.5 L620.5 783.7 L622.5 783.9 L624.5 784.1 L626.5 784.2 L628.5 784.3 L630.5 784.4 L632.5 784.5 L634.5 784.5 L636.5 784.5 L638.5 784.5 L640.5 784.4 L642.5 784.4 L644.5 784.3 L646.5 784.2 L648.5 784.1 L650.5 783.9 L652.5 783.7 L654.5 783.5 L656.5 783.3 L658.5 783.1 L660.5 782.8 L662.5 782.5 L664.5 782.2 L666.5 781.9 L668.5 781.5 L670.5 781.1 L672.5 780.7 L674.5 780.2 L676.5 779.7 L678.5 779.2 L680.5 778.6 L682.5 778.0 L684.5 777.4 L686.5 776.7 L688.5 776.0 L690.5 775.2 L692.5 774.4 L694.5 773.6 L696.5 772.7 L698.5 771.7 L700.5 770.7 L702.5 769.6 L704.5 768.5 L706.5 767.4 L708.5 766.1 L710.5 764.9 L712.5 763.5 L714.5 762.1 L716.5 760.6 L718.5 759.1 L720.5 757.5 L722.5 755.8 L724.5 754.1 L726.5 752.3 L728.5 750.4 L730.5 748.5 L732.5 746.5 L734.5 744.4 L736.5 742.3 L738.5 740.1 L740.5 737.8 L742.5 735.5 L744.5 733.1 L746.5 730.7 L748.5 728.2 L750.5 725.7 L752.5 723.1 L754.5 720.4 L756.5 717.8 L758.5 715.0 L760.5 712.3 L762.5 709.5 L764.5 706.7 L766.5 703.9 L768.5 701.1 L770.5 698.2 L772.5 695.4 L774.5 692.6 L776.5 689.7 L778.5 686.9 L780.5 684.2 L782.5 681.4 L784.5 678.7 L786.5 676.0 L788.5 673.4 L790.5 670.8 L792.5 668.3 L794.5 665.9 L796.5 663.5 L798.5 661.2 L800.5 659.1 L802.5 657.0 L804.5 655.0 L806.5 653.1 L808.5 651.3 L810.5 649.6 L812.5 648.0 L814.5 646.6 L816.5 645.3 L818.5 644.1 L820.5 643.0 L822.5 642.1 L824.5 641.3 L826.5 640.6 L828.5 640.1 L830.5 639.7 L832.5 639.5 L834.5 639.3 L836.5 639.3 L838.5 639.5 L840.5 639.7 L842.5 640.1 L844.5 640.6 L846.5 641.3 L848.5 642.0 L850.5 642.8 L852.5 643.8 L854.5 644.9 L856.5 646.0 L858.5 647.3 L860.5 648.6 L862.5 650.0 L864.5 651.5 L866.5 653.1 L868.5 654.7 L870.5 656.3 L872.5 658.1 L874.5 659.8 L876.5 661.6 L878.5 663.5 L880.5 665.3 L882.5 667.2 L884.5 669.1 L886.5 671.0 L888.5 672.9 L890.5 674.9 L892.5 676.8 L894.5 678.7 L896.5 680.5 L898.5 682.4 L900.5 684.3 L902.5 686.1 L904.5 687.9 L906.5 689.6 L908.5 691.4 L910.5 693.0 L912.5 694.7 L914.5 696.3 L916.5 697.9 L918.5 699.4 L920.5 700.9 L922.5 702.4 L924.5 703.8 L926.5 705.1 L928.5 706.4 L930.5 707.7 L932.5 708.9 L934.5 710.1 L936.5 711.2 L938.5 712.3 L940.5 713.4 L942.5 714.4 L944.5 715.4 L946.5 716.3 L948.5 717.2 L950.5 718.1 L952.5 719.0 L954.5 719.8 L956.5 720.6 L958.5 721.3 L960.5 722.1 L962.5 722.8 L964.5 723.4 L966.5 724.1 L968.5 724.8 L970.5 725.4 L972.5 726.0 L974.5 726.6 L976.5 727.2 L978.5 727.7 L980.5 728.3 L982.5 728.9 L984.5 729.4 L986.5 729.9 L988.5 730.5 L990.5 731.0 L992.5 731.5 L994.5 732.0 L996.5 732.6 L998.5 733.1 L1000.5 733.6 L1002.5 734.1 L1004.5 734.6 L1006.5 735.2 L1008.5 735.7 L1010.5 736.2 L1012.5 736.7 L1014.5 737.2 L1016.5 737.8 L1018.5 738.3 L1020.5 738.8 L1022.5 739.4 L1024.5 739.9 L1026.5 740.5 L1028.5 741.0 L1030.5 741.6 L1032.5 742.1 L1034.5 742.7 L1036.5 743.2 L1038.5 743.8 L1040.5 744.4 L1042.5 744.9 L1044.5 745.5 L1046.5 746.1 L1048.5 746.7 L1050.5 747.3 L1052.5 747.8 L1054.5 748.4 L1056.5 749.0 L1058.5 749.6 L1060.5 750.2 L1062.5 750.8 L1064.5 751.3 L1066.5 751.9 L1068.5 752.5 L1070.5 753.1 L1072.5 753.7 L1074.5 754.3 L1076.5 754.9 L1078.5 755.4 L1080.5 756.0 L1082.5 756.6 L1084.5 757.2 L1086.5 757.7 L1088.5 758.3 L1090.5 758.9 L1092.5 759.4 L1094.5 760.0 L1096.5 760.5 L1098.5 761.1 L1100.5 761.6 L1102.5 762.2 L1104.5 762.7 L1106.5 763.2 L1108.5 763.8 L1110.5 764.3 L1112.5 764.8 L1114.5 765.3 L1116.5 765.8 L1118.5 766.3 L1120.5 766.8 L1122.5 767.3 L1124.5 767.8 L1126.5 768.3 L1128.5 768.7 L1130.5 769.2 L1132.5 769.6 L1134.5 770.1 L1136.5 770.5 L1138.5 771.0 L1140.5 771.4 L1142.5 771.8 L1144.5 772.2 L1146.5 772.6 L1148.5 773.0 L1150.5 773.4 L1152.5 773.8 L1154.5 774.2 L1156.5 774.6 L1158.5 774.9 L1160.5 775.3 L1162.5 775.7 L1164.5 776.0 L1166.5 776.3 L1168.5 776.7 L1170.5 777.0 L1172.5 777.3 L1174.5 777.6 L1176.5 777.9 L1178.5 778.2 L1180.5 778.5 L1182.5 778.8 L1184.5 779.1 L1186.5 779.4 L1188.5 779.6 L1190.5 779.9 L1192.5 780.2 L1194.5 780.4 L1196.5 780.6 L1198.5 780.9 L1200.5 781.1 L1202.5 781.3 L1204.5 781.6 L1206.5 781.8 L1208.5 782.0 L1210.5 782.2 L1212.5 782.4 L1214.5 782.6 L1216.5 782.8 L1218.5 782.9 L1220.5 783.1 L1222.5 783.3 L1224.5 783.4 L1226.5 783.6 L1228.5 783.8 L1230.5 783.9 L1232.5 784.1 L1234.5 784.2 L1236.5 784.4 L1238.5 784.5 L1240.5 784.6 L1242.5 784.8 L1244.5 784.9 L1246.5 785.0 L1248.5 785.1 L1250.5 785.2 L1252.5 785.3 L1254.5 785.5 L1256.5 785.6 L1258.5 785.7 L1260.5 785.8 L1262.5 785.8 L1264.5 785.9 L1266.5 786.0 L1268.5 786.1 L1270.5 786.2 L1272.5 786.3 L1274.5 786.4 L1276.5 786.4 L1278.5 786.5 L1280.5 786.6 L1282.5 786.6 L1284.5 786.7 L1286.5 786.8 L1288.5 786.8 L1290.5 786.9 L1292.5 787.0 L1294.5 787.0 L1296.5 787.1 L1298.5 787.1 L1300.5 787.2 L1302.5 787.2 L1304.5 787.3 L1306.5 787.3 L1308.5 787.4 L1310.5 787.4 L1312.5 787.5 L1314.5 787.5 L1316.5 787.5 L1318.5 787.6 L1320.5 787.6 L1322.5 787.6 L1324.5 787.7 L1326.5 787.7 L1328.5 787.7 L1330.5 787.8 L1332.5 787.8 L1334.5 787.8 L1336.5 787.9 L1338.5 787.9 L1340.5 787.9 L1342.5 787.9 L1344.5 788.0 L1346.5 788.0 L1348.5 788.0 L1350.5 788.0 L1352.5 788.1 L1354.5 788.1 L1356.5 788.1 L1358.5 788.1 L1360.5 788.2 L1362.5 788.2 L1364.5 788.2 L1366.5 788.2 L1368.5 788.2 L1370.5 788.3 L1372.5 788.3 L1374.5 788.3 L1376.5 788.3 L1378.5 788.3 L1380.5 788.3 L1382.5 788.3 L1384.5 788.4 L1386.5 788.4 L1388.5 788.4 L1390.5 788.4 L1392.5 788.4 L1394.5 788.4 L1396.5 788.4 L1398.5 788.5 L1400.5 788.5 L1402.5 788.5 L1404.5 788.5 L1406.5 788.5 L1408.5 788.5 L1410.5 788.5 L1412.5 788.5 L1414.5 788.5 L1416.5 788.6 L1418.5 788.6 L1420.5 788.6 L1422.5 788.6 L1424.5 788.6 L1426.5 788.6 L1428.5 788.6 L1430.5 788.6 L1432.5 788.6 L1434.5 788.6 L1436.5 788.6 L1438.5 788.7 L1440.5 788.7 L1442.5 788.7 L1444.5 788.7 L1446.5 788.7 L1448.5 788.7 L1450.5 788.7 L1452.5 788.7 L1454.5 788.7 L1456.5 788.7 L1458.5 788.7 L1460.5 788.7 L1462.5 788.7 L1464.5 788.7 L1466.5 788.7 L1468.5 788.8 L1470.5 788.8 L1472.5 788.8 L1474.5 788.8 L1476.5 788.8 L1478.5 788.8 L1480.5 788.8 L1482.5 788.8 L1484.5 788.8 L1486.5 788.8 L1488.5 788.8 L1490.5 788.8 L1492.5 788.8 L1494.5 788.8 L1496.5 788.8 L1498.5 788.8 L1500.5 788.8 L1502.5 788.8 L1504.5 788.8 L1506.5 788.8 L1508.5 788.8 L1510.5 788.9 L1512.5 788.9 L1514.5 788.9 L1516.5 788.9 L1518.5 788.9 L1520.5 788.9 L1522.5 788.9 L1524.5 788.9 L1526.5 788.9 L1528.5 788.9 L1530.5 788.9 L1532.5 788.9 L1534.5 788.9 L1536.5 788.9 L1538.5 788.9 L1540.5 788.9 L1542.5 788.9 L1544.5 788.9 L1546.5 788.9 L1548.5 788.9 L1550.5 788.9 L1552.5 788.9 L1554.5 788.9 L1556.5 788.9 L1558.5 788.9 L1560.5 788.9 L1562.5 788.9 L1564.5 788.9 L1566.5 788.9 L1568.5 788.9 L1570.5 788.9 L1572.5 788.9 L1574.5 788.9 L1576.5 788.9 L1578.5 788.9 L1580.5 788.9 L1582.5 788.9 L1584.5 788.9 L1586.5 788.9 L1588.5 788.9 L1590.5 788.9 L1592.5 789.0 L1594.5 789.0 L1596.5 789.0 L1598.5 789.0 L1600.5 789.0 L1602.5 789.0 L1604.5 789.0" stroke="#8CD24A"/>
<path d="M242.5 711.4 L244.5 708.9 L246.5 706.4 L248.5 703.9 L250.5 701.4 L252.5 698.9 L254.5 696.4 L256.5 693.9 L258.5 691.4 L260.5 689.0 L262.5 686.5 L264.5 684.1 L266.5 681.6 L268.5 679.2 L270.5 676.8 L272.5 674.4 L274.5 672.0 L276.5 669.6 L278.5 667.3 L280.5 665.0 L282.5 662.7 L284.5 660.5 L286.5 658.4 L288.5 656.3 L290.5 654.3 L292.5 652.4 L294.5 650.6 L296.5 648.9 L298.5 647.3 L300.5 645.8 L302.5 644.5 L304.5 643.4 L306.5 642.4 L308.5 641.7 L310.5 641.1 L312.5 640.7 L314.5 640.6 L316.5 640.7 L318.5 641.0 L320.5 641.5 L322.5 642.3 L324.5 643.4 L326.5 644.6 L328.5 646.1 L330.5 647.9 L332.5 649.8 L334.5 652.0 L336.5 654.3 L338.5 656.9 L340.5 659.6 L342.5 662.4 L344.5 665.4 L346.5 668.5 L348.5 671.6 L350.5 674.9 L352.5 678.1 L354.5 681.3 L356.5 684.6 L358.5 687.7 L360.5 690.8 L362.5 693.8 L364.5 696.7 L366.5 699.4 L368.5 702.0 L370.5 704.4 L372.5 706.6 L374.5 708.5 L376.5 710.2 L378.5 711.7 L380.5 712.8 L382.5 713.8 L384.5 714.4 L386.5 714.7 L388.5 714.8 L390.5 714.5 L392.5 714.0 L394.5 713.2 L396.5 712.0 L398.5 710.6 L400.5 708.9 L402.5 706.9 L404.5 704.7 L406.5 702.2 L408.5 699.4 L410.5 696.4 L412.5 693.2 L414.5 689.7 L416.5 686.1 L418.5 682.3 L420.5 678.3 L422.5 674.1 L424.5 669.8 L426.5 665.4 L428.5 660.9 L430.5 656.2 L432.5 651.5 L434.5 646.8 L436.5 641.9 L438.5 637.1 L440.5 632.3 L442.5 627.4 L444.5 622.6 L446.5 617.8 L448.5 613.1 L450.5 608.5 L452.5 604.0 L454.5 599.5 L456.5 595.2 L458.5 591.0 L460.5 587.0 L462.5 583.2 L464.5 579.5 L466.5 576.1 L468.5 572.8 L470.5 569.8 L472.5 567.0 L474.5 564.5 L476.5 562.2 L478.5 560.2 L480.5 558.4 L482.5 557.0 L484.5 555.8 L486.5 554.9 L488.5 554.3 L490.5 554.0 L492.5 554.0 L494.5 554.3 L496.5 554.9 L498.5 555.8 L500.5 556.9 L502.5 558.4 L504.5 560.1 L506.5 562.1 L508.5 564.4 L510.5 567.0 L512.5 569.7 L514.5 572.8 L516.5 576.0 L518.5 579.5 L520.5 583.2 L522.5 587.0 L524.5 591.1 L526.5 595.3 L528.5 599.6 L530.5 604.1 L532.5 608.7 L534.5 613.4 L536.5 618.3 L538.5 623.1 L540.5 628.1 L542.5 633.1 L544.5 638.1 L546.5 643.2 L548.5 648.3 L550.5 653.3 L552.5 658.4 L554.5 663.4 L556.5 668.3 L558.5 673.3 L560.5 678.1 L562.5 682.9 L564.5 687.6 L566.5 692.2 L568.5 696.7 L570.5 701.2 L572.5 705.5 L574.5 709.6 L576.5 713.7 L578.5 717.6 L580.5 721.5 L582.5 725.1 L584.5 728.7 L586.5 732.1 L588.5 735.4 L590.5 738.5 L592.5 741.5 L594.5 744.4 L596.5 747.1 L598.5 749.7 L600.5 752.1 L602.5 754.5 L604.5 756.6 L606.5 758.7 L608.5 760.6 L610.5 762.4 L612.5 764.1 L614.5 765.7 L616.5 767.1 L618.5 768.4 L620.5 769.7 L622.5 770.8 L624.5 771.8 L626.5 772.7 L628.5 773.5 L630.5 774.2 L632.5 774.8 L634.5 775.3 L636.5 775.8 L638.5 776.1 L640.5 776.4 L642.5 776.6 L644.5 776.7 L646.5 776.7 L648.5 776.6 L650.5 776.5 L652.5 776.3 L654.5 776.0 L656.5 775.7 L658.5 775.3 L660.5 774.8 L662.5 774.3 L664.5 773.6 L666.5 773.0 L668.5 772.2 L670.5 771.4 L672.5 770.6 L674.5 769.7 L676.5 768.7 L678.5 767.7 L680.5 766.6 L682.5 765.4 L684.5 764.2 L686.5 763.0 L688.5 761.7 L690.5 760.3 L692.5 758.9 L694.5 757.5 L696.5 756.0 L698.5 754.5 L700.5 752.9 L702.5 751.3 L704.5 749.7 L706.5 748.0 L708.5 746.3 L710.5 744.6 L712.5 742.8 L714.5 741.1 L716.5 739.3 L718.5 737.5 L720.5 735.7 L722.5 733.9 L724.5 732.1 L726.5 730.3 L728.5 728.6 L730.5 726.8 L732.5 725.0 L734.5 723.3 L736.5 721.6 L738.5 720.0 L740.5 718.4 L742.5 716.8 L744.5 715.2 L746.5 713.8 L748.5 712.3 L750.5 711.0 L752.5 709.7 L754.5 708.4 L756.5 707.3 L758.5 706.2 L760.5 705.2 L762.5 704.2 L764.5 703.4 L766.5 702.6 L768.5 702.0 L770.5 701.4 L772.5 700.9 L774.5 700.5 L776.5 700.2 L778.5 700.0 L780.5 699.9 L782.5 699.9 L784.5 700.0 L786.5 700.1 L788.5 700.4 L790.5 700.8 L792.5 701.2 L794.5 701.8 L796.5 702.4 L798.5 703.1 L800.5 703.9 L802.5 704.8 L804.5 705.8 L806.5 706.8 L808.5 707.9 L810.5 709.0 L812.5 710.2 L814.5 711.5 L816.5 712.8 L818.5 714.2 L820.5 715.6 L822.5 717.0 L824.5 718.5 L826.5 720.0 L828.5 721.5 L830.5 723.0 L832.5 724.6 L834.5 726.1 L836.5 727.7 L838.5 729.2 L840.5 730.7 L842.5 732.2 L844.5 733.7 L846.5 735.2 L848.5 736.7 L850.5 738.1 L852.5 739.4 L854.5 740.8 L856.5 742.0 L858.5 743.3 L860.5 744.4 L862.5 745.5 L864.5 746.6 L866.5 747.5 L868.5 748.4 L870.5 749.3 L872.5 750.0 L874.5 750.7 L876.5 751.3 L878.5 751.8 L880.5 752.2 L882.5 752.6 L884.5 752.8 L886.5 753.0 L888.5 753.1 L890.5 753.1 L892.5 753.1 L894.5 752.9 L896.5 752.7 L898.5 752.5 L900.5 752.2 L902.5 751.8 L904.5 751.4 L906.5 750.9 L908.5 750.4 L910.5 749.8 L912.5 749.2 L914.5 748.5 L916.5 747.8 L918.5 747.1 L920.5 746.3 L922.5 745.5 L924.5 744.6 L926.5 743.7 L928.5 742.7 L930.5 741.7 L932.5 740.6 L934.5 739.4 L936.5 738.2 L938.5 737.0 L940.5 735.7 L942.5 734.3 L944.5 732.8 L946.5 731.3 L948.5 729.7 L950.5 728.1 L952.5 726.4 L954.5 724.6 L956.5 722.8 L958.5 720.9 L960.5 719.0 L962.5 717.1 L964.5 715.1 L966.5 713.1 L968.5 711.0 L970.5 708.9 L972.5 706.8 L974.5 704.7 L976.5 702.5 L978.5 700.4 L980.5 698.2 L982.5 696.0 L984.5 693.9 L986.5 691.7 L988.5 689.6 L990.5 687.4 L992.5 685.3 L994.5 683.3 L996.5 681.2 L998.5 679.2 L1000.5 677.2 L1002.5 675.2 L1004.5 673.3 L1006.5 671.4 L1008.5 669.6 L1010.5 667.8 L1012.5 666.1 L1014.5 664.5 L1016.5 662.9 L1018.5 661.3 L1020.5 659.9 L1022.5 658.5 L1024.5 657.2 L1026.5 655.9 L1028.5 654.8 L1030.5 653.7 L1032.5 652.7 L1034.5 651.8 L1036.5 650.9 L1038.5 650.2 L1040.5 649.5 L1042.5 648.9 L1044.5 648.5 L1046.5 648.1 L1048.5 647.7 L1050.5 647.5 L1052.5 647.4 L1054.5 647.3 L1056.5 647.4 L1058.5 647.5 L1060.5 647.7 L1062.5 648.0 L1064.5 648.4 L1066.5 648.9 L1068.5 649.4 L1070.5 650.0 L1072.5 650.7 L1074.5 651.5 L1076.5 652.3 L1078.5 653.2 L1080.5 654.1 L1082.5 655.2 L1084.5 656.2 L1086.5 657.4 L1088.5 658.6 L1090.5 659.8 L1092.5 661.1 L1094.5 662.4 L1096.5 663.8 L1098.5 665.1 L1100.5 666.6 L1102.5 668.0 L1104.5 669.5 L1106.5 671.0 L1108.5 672.6 L1110.5 674.1 L1112.5 675.7 L1114.5 677.3 L1116.5 678.8 L1118.5 680.4 L1120.5 682.0 L1122.5 683.6 L1124.5 685.2 L1126.5 686.8 L1128.5 688.4 L1130.5 690.0 L1132.5 691.5 L1134.5 693.1 L1136.5 694.6 L1138.5 696.1 L1140.5 697.6 L1142.5 699.1 L1144.5 700.6 L1146.5 702.0 L1148.5 703.5 L1150.5 704.9 L1152.5 706.3 L1154.5 707.6 L1156.5 708.9 L1158.5 710.2 L1160.5 711.5 L1162.5 712.8 L1164.5 714.0 L1166.5 715.2 L1168.5 716.4 L1170.5 717.5 L1172.5 718.7 L1174.5 719.8 L1176.5 720.8 L1178.5 721.9 L1180.5 722.9 L1182.5 723.9 L1184.5 724.9 L1186.5 725.9 L1188.5 726.8 L1190.5 727.7 L1192.5 728.6 L1194.5 729.5 L1196.5 730.3 L1198.5 731.2 L1200.5 732.0 L1202.5 732.8 L1204.5 733.6 L1206.5 734.4 L1208.5 735.1 L1210.5 735.9 L1212.5 736.6 L1214.5 737.3 L1216.5 738.0 L1218.5 738.7 L1220.5 739.4 L1222.5 740.1 L1224.5 740.7 L1226.5 741.4 L1228.5 742.0 L1230.5 742.6 L1232.5 743.3 L1234.5 743.9 L1236.5 744.5 L1238.5 745.1 L1240.5 745.7 L1242.5 746.3 L1244.5 746.9 L1246.5 747.5 L1248.5 748.0 L1250.5 748.6 L1252.5 749.2 L1254.5 749.8 L1256.5 750.3 L1258.5 750.9 L1260.5 751.4 L1262.5 752.0 L1264.5 752.5 L1266.5 753.1 L1268.5 753.6 L1270.5 754.2 L1272.5 754.7 L1274.5 755.2 L1276.5 755.8 L1278.5 756.3 L1280.5 756.8 L1282.5 757.3 L1284.5 757.8 L1286.5 758.4 L1288.5 758.9 L1290.5 759.4 L1292.5 759.9 L1294.5 760.4 L1296.5 760.9 L1298.5 761.4 L1300.5 761.9 L1302.5 762.4 L1304.5 762.8 L1306.5 763.3 L1308.5 763.8 L1310.5 764.3 L1312.5 764.7 L1314.5 765.2 L1316.5 765.7 L1318.5 766.1 L1320.5 766.6 L1322.5 767.0 L1324.5 767.5 L1326.5 767.9 L1328.5 768.4 L1330.5 768.8 L1332.5 769.2 L1334.5 769.6 L1336.5 770.0 L1338.5 770.5 L1340.5 770.9 L1342.5 771.3 L1344.5 771.7 L1346.5 772.1 L1348.5 772.4 L1350.5 772.8 L1352.5 773.2 L1354.5 773.6 L1356.5 773.9 L1358.5 774.3 L1360.5 774.6 L1362.5 775.0 L1364.5 775.3 L1366.5 775.7 L1368.5 776.0 L1370.5 776.3 L1372.5 776.6 L1374.5 777.0 L1376.5 777.3 L1378.5 777.6 L1380.5 777.9 L1382.5 778.2 L1384.5 778.5 L1386.5 778.7 L1388.5 779.0 L1390.5 779.3 L1392.5 779.6 L1394.5 779.8 L1396.5 780.1 L1398.5 780.3 L1400.5 780.6 L1402.5 780.8 L1404.5 781.0 L1406.5 781.3 L1408.5 781.5 L1410.5 781.7 L1412.5 781.9 L1414.5 782.2 L1416.5 782.4 L1418.5 782.6 L1420.5 782.8 L1422.5 782.9 L1424.5 783.1 L1426.5 783.3 L1428.5 783.5 L1430.5 783.7 L1432.5 783.8 L1434.5 784.0 L1436.5 784.2 L1438.5 784.3 L1440.5 784.5 L1442.5 784.6 L1444.5 784.8 L1446.5 784.9 L1448.5 785.0 L1450.5 785.2 L1452.5 785.3 L1454.5 785.4 L1456.5 785.6 L1458.5 785.7 L1460.5 785.8 L1462.5 785.9 L1464.5 786.0 L1466.5 786.1 L1468.5 786.2 L1470.5 786.3 L1472.5 786.4 L1474.5 786.5 L1476.5 786.6 L1478.5 786.7 L1480.5 786.8 L1482.5 786.9 L1484.5 786.9 L1486.5 787.0 L1488.5 787.1 L1490.5 787.2 L1492.5 787.2 L1494.5 787.3 L1496.5 787.4 L1498.5 787.4 L1500.5 787.5 L1502.5 787.6 L1504.5 787.6 L1506.5 787.7 L1508.5 787.7 L1510.5 787.8 L1512.5 787.8 L1514.5 787.9 L1516.5 787.9 L1518.5 788.0 L1520.5 788.0 L1522.5 788.0 L1524.5 788.1 L1526.5 788.1 L1528.5 788.2 L1530.5 788.2 L1532.5 788.2 L1534.5 788.3 L1536.5 788.3 L1538.5 788.3 L1540.5 788.4 L1542.5 788.4 L1544.5 788.4 L1546.5 788.4 L1548.5 788.5 L1550.5 788.5 L1552.5 788.5 L1554.5 788.5 L1556.5 788.5 L1558.5 788.6 L1560.5 788.6 L1562.5 788.6 L1564.5 788.6 L1566.5 788.6 L1568.5 788.7 L1570.5 788.7 L1572.5 788.7 L1574.5 788.7 L1576.5 788.7 L1578.5 788.7 L1580.5 788.7 L1582.5 788.8 L1584.5 788.8 L1586.5 788.8 L1588.5 788.8 L1590.5 788.8 L1592.5 788.8 L1594.5 788.8 L1596.5 788.8 L1598.5 788.8 L1600.5 788.8 L1602.5 788.9 L1604.5 788.9" stroke="#9500FF"/>
<path d="M242.5 671.1 L244.5 666.3 L246.5 661.5 L248.5 656.8 L250.5 652.3 L252.5 647.9 L254.5 643.6 L256.5 639.5 L258.5 635.5 L260.5 631.8 L262.5 628.3 L264.5 625.0 L266.5 622.0 L268.5 619.2 L270.5 616.7 L272.5 614.4 L274.5 612.5 L276.5 610.7 L278.5 609.3 L280.5 608.1 L282.5 607.2 L284.5 606.6 L286.5 606.2 L288.5 606.0 L290.5 606.1 L292.5 606.4 L294.5 606.9 L296.5 607.6 L298.5 608.4 L300.5 609.4 L302.5 610.6 L304.5 611.9 L306.5 613.2 L308.5 614.7 L310.5 616.2 L312.5 617.8 L314.5 619.4 L316.5 621.1 L318.5 622.7 L320.5 624.4 L322.5 626.0 L324.5 627.7 L326.5 629.3 L328.5 630.8 L330.5 632.3 L332.5 633.8 L334.5 635.2 L336.5 636.6 L338.5 638.0 L340.5 639.2 L342.5 640.5 L344.5 641.7 L346.5 642.9 L348.5 644.0 L350.5 645.1 L352.5 646.2 L354.5 647.3 L356.5 648.4 L358.5 649.5 L360.5 650.7 L362.5 651.8 L364.5 653.0 L366.5 654.2 L368.5 655.4 L370.5 656.7 L372.5 658.1 L374.5 659.5 L376.5 660.9 L378.5 662.5 L380.5 664.1 L382.5 665.7 L384.5 667.5 L386.5 669.3 L388.5 671.2 L390.5 673.1 L392.5 675.1 L394.5 677.2 L396.5 679.3 L398.5 681.5 L400.5 683.8 L402.5 686.1 L404.5 688.4 L406.5 690.8 L408.5 693.2 L410.5 695.6 L412.5 698.1 L414.5 700.5 L416.5 703.0 L418.5 705.4 L420.5 707.9 L422.5 710.3 L424.5 712.7 L426.5 715.1 L428.5 717.5 L430.5 719.8 L432.5 722.1 L434.5 724.3 L436.5 726.5 L438.5 728.6 L440.5 730.7 L442.5 732.7 L444.5 734.6 L446.5 736.5 L448.5 738.3 L450.5 740.0 L452.5 741.6 L454.5 743.2 L456.5 744.7 L458.5 746.2 L460.5 747.5 L462.5 748.8 L464.5 750.1 L466.5 751.2 L468.5 752.3 L470.5 753.3 L472.5 754.3 L474.5 755.2 L476.5 756.0 L478.5 756.8 L480.5 757.5 L482.5 758.2 L484.5 758.8 L486.5 759.4 L488.5 760.0 L490.5 760.5 L492.5 760.9 L494.5 761.4 L496.5 761.8 L498.5 762.1 L500.5 762.5 L502.5 762.8 L504.5 763.1 L506.5 763.4 L508.5 763.7 L510.5 763.9 L512.5 764.2 L514.5 764.4 L516.5 764.6 L518.5 764.8 L520.5 765.1 L522.5 765.3 L524.5 765.5 L526.5 765.7 L528.5 765.9 L530.5 766.1 L532.5 766.3 L534.5 766.5 L536.5 766.8 L538.5 767.0 L540.5 767.2 L542.5 767.5 L544.5 767.7 L546.5 767.9 L548.5 768.2 L550.5 768.4 L552.5 768.7 L554.5 769.0 L556.5 769.2 L558.5 769.5 L560.5 769.8 L562.5 770.1 L564.5 770.3 L566.5 770.6 L568.5 770.9 L570.5 771.1 L572.5 771.4 L574.5 771.7 L576.5 771.9 L578.5 772.2 L580.5 772.4 L582.5 772.7 L584.5 772.9 L586.5 773.1 L588.5 773.3 L590.5 773.5 L592.5 773.6 L594.5 773.8 L596.5 773.9 L598.5 774.0 L600.5 774.0 L602.5 774.1 L604.5 774.1 L606.5 774.1 L608.5 774.0 L610.5 774.0 L612.5 773.8 L614.5 773.7 L616.5 773.5 L618.5 773.3 L620.5 773.0 L622.5 772.6 L624.5 772.3 L626.5 771.8 L628.5 771.4 L630.5 770.8 L632.5 770.3 L634.5 769.6 L636.5 768.9 L638.5 768.2 L640.5 767.3 L642.5 766.5 L644.5 765.5 L646.5 764.5 L648.5 763.5 L650.5 762.3 L652.5 761.1 L654.5 759.9 L656.5 758.6 L658.5 757.2 L660.5 755.7 L662.5 754.2 L664.5 752.6 L666.5 751.0 L668.5 749.3 L670.5 747.6 L672.5 745.8 L674.5 743.9 L676.5 742.0 L678.5 740.1 L680.5 738.1 L682.5 736.0 L684.5 734.0 L686.5 731.8 L688.5 729.7 L690.5 727.5 L692.5 725.3 L694.5 723.1 L696.5 720.9 L698.5 718.6 L700.5 716.4 L702.5 714.2 L704.5 711.9 L706.5 709.7 L708.5 707.4 L710.5 705.2 L712.5 703.0 L714.5 700.9 L716.5 698.7 L718.5 696.6 L720.5 694.6 L722.5 692.5 L724.5 690.6 L726.5 688.6 L728.5 686.7 L730.5 684.9 L732.5 683.1 L734.5 681.4 L736.5 679.7 L738.5 678.1 L740.5 676.6 L742.5 675.1 L744.5 673.7 L746.5 672.4 L748.5 671.1 L750.5 669.8 L752.5 668.7 L754.5 667.6 L756.5 666.5 L758.5 665.5 L760.5 664.6 L762.5 663.7 L764.5 662.9 L766.5 662.1 L768.5 661.3 L770.5 660.6 L772.5 659.9 L774.5 659.3 L776.5 658.7 L778.5 658.1 L780.5 657.6 L782.5 657.0 L784.5 656.5 L786.5 656.0 L788.5 655.5 L790.5 655.1 L792.5 654.6 L794.5 654.1 L796.5 653.6 L798.5 653.2 L800.5 652.7 L802.5 652.2 L804.5 651.7 L806.5 651.2 L808.5 650.7 L810.5 650.2 L812.5 649.7 L814.5 649.1 L816.5 648.6 L818.5 648.0 L820.5 647.4 L822.5 646.9 L824.5 646.3 L826.5 645.7 L828.5 645.1 L830.5 644.5 L832.5 643.9 L834.5 643.3 L836.5 642.8 L838.5 642.2 L840.5 641.7 L842.5 641.1 L844.5 640.6 L846.5 640.1 L848.5 639.7 L850.5 639.2 L852.5 638.8 L854.5 638.5 L856.5 638.2 L858.5 637.9 L860.5 637.7 L862.5 637.5 L864.5 637.4 L866.5 637.3 L868.5 637.3 L870.5 637.4 L872.5 637.5 L874.5 637.7 L876.5 638.0 L878.5 638.4 L880.5 638.8 L882.5 639.3 L884.5 639.9 L886.5 640.5 L888.5 641.3 L890.5 642.1 L892.5 643.0 L894.5 643.9 L896.5 645.0 L898.5 646.1 L900.5 647.3 L902.5 648.6 L904.5 650.0 L906.5 651.4 L908.5 653.0 L910.5 654.5 L912.5 656.2 L914.5 657.9 L916.5 659.7 L918.5 661.5 L920.5 663.4 L922.5 665.4 L924.5 667.4 L926.5 669.5 L928.5 671.6 L930.5 673.8 L932.5 675.9 L934.5 678.2 L936.5 680.4 L938.5 682.7 L940.5 685.0 L942.5 687.4 L944.5 689.7 L946.5 692.1 L948.5 694.5 L950.5 696.9 L952.5 699.3 L954.5 701.6 L956.5 704.0 L958.5 706.4 L960.5 708.8 L962.5 711.2 L964.5 713.5 L966.5 715.8 L968.5 718.1 L970.5 720.4 L972.5 722.7 L974.5 724.9 L976.5 727.1 L978.5 729.3 L980.5 731.4 L982.5 733.5 L984.5 735.6 L986.5 737.6 L988.5 739.6 L990.5 741.5 L992.5 743.4 L994.5 745.3 L996.5 747.1 L998.5 748.9 L1000.5 750.6 L1002.5 752.2 L1004.5 753.9 L1006.5 755.4 L1008.5 757.0 L1010.5 758.4 L1012.5 759.9 L1014.5 761.3 L1016.5 762.6 L1018.5 763.9 L1020.5 765.1 L1022.5 766.3 L1024.5 767.5 L1026.5 768.6 L1028.5 769.7 L1030.5 770.7 L1032.5 771.7 L1034.5 772.6 L1036.5 773.5 L1038.5 774.4 L1040.5 775.2 L1042.5 776.0 L1044.5 776.8 L1046.5 777.5 L1048.5 778.2 L1050.5 778.8 L1052.5 779.4 L1054.5 780.0 L1056.5 780.6 L1058.5 781.1 L1060.5 781.6 L1062.5 782.1 L1064.5 782.5 L1066.5 783.0 L1068.5 783.4 L1070.5 783.7 L1072.5 784.1 L1074.5 784.4 L1076.5 784.7 L1078.5 785.0 L1080.5 785.3 L1082.5 785.6 L1084.5 785.8 L1086.5 786.1 L1088.5 786.3 L1090.5 786.5 L1092.5 786.7 L1094.5 786.8 L1096.5 787.0 L1098.5 787.1 L1100.5 787.3 L1102.5 787.4 L1104.5 787.5 L1106.5 787.7 L1108.5 787.8 L1110.5 787.9 L1112.5 788.0 L1114.5 788.0 L1116.5 788.1 L1118.5 788.2 L1120.5 788.3 L1122.5 788.3 L1124.5 788.4 L1126.5 788.4 L1128.5 788.5 L1130.5 788.5 L1132.5 788.6 L1134.5 788.6 L1136.5 788.6 L1138.5 788.7 L1140.5 788.7 L1142.5 788.7 L1144.5 788.8 L1146.5 788.8 L1148.5 788.8 L1150.5 788.8 L1152.5 788.8 L1154.5 788.9 L1156.5 788.9 L1158.5 788.9 L1160.5 788.9 L1162.5 788.9 L1164.5 788.9 L1166.5 788.9 L1168.5 788.9 L1170.5 788.9 L1172.5 788.9 L1174.5 788.9 L1176.5 789.0 L1178.5 789.0 L1180.5 789.0 L1182.5 789.0 L1184.5 789.0 L1186.5 789.0 L1188.5 789.0 L1190.5 789.0 L1192.5 789.0 L1194.5 789.0 L1196.5 789.0 L1198.5 789.0 L1200.5 789.0 L1202.5 789.0 L1204.5 789.0 L1206.5 789.0 L1208.5 789.0 L1210.5 789.0 L1212.5 789.0 L1214.5 789.0 L1216.5 789.0 L1218.5 789.0 L1220.5 789.0 L1222.5 789.0 L1224.5 789.0 L1226.5 789.0 L1228.5 789.0 L1230.5 789.0 L1232.5 789.0 L1234.5 789.0 L1236.5 789.0 L1238.5 789.0 L1240.5 789.0 L1242.5 789.0 L1244.5 789.0 L1246.5 789.0 L1248.5 789.0 L1250.5 789.0 L1252.5 789.0 L1254.5 789.0 L1256.5 789.0 L1258.5 789.0 L1260.5 789.0 L1262.5 789.0 L1264.5 789.0 L1266.5 789.0 L1268.5 789.0 L1270.5 789.0 L1272.5 789.0 L1274.5 789.0 L1276.5 789.0 L1278.5 789.0 L1280.5 789.0 L1282.5 789.0 L1284.5 789.0 L1286.5 789.0 L1288.5 789.0 L1290.5 789.0 L1292.5 789.0 L1294.5 789.0 L1296.5 789.0 L1298.5 789.0 L1300.5 789.0 L1302.5 789.0 L1304.5 789.0 L1306.5 789.0 L1308.5 789.0 L1310.5 789.0 L1312.5 789.0 L1314.5 789.0 L1316.5 789.0 L1318.5 789.0 L1320.5 789.0 L1322.5 789.0 L1324.5 789.0 L1326.5 789.0 L1328.5 789.0 L1330.5 789.0 L1332.5 789.0 L1334.5 789.0 L1336.5 789.0 L1338.5 789.0 L1340.5 789.0 L1342.5 789.0 L1344.5 789.0 L1346.5 789.0 L1348.5 789.0 L1350.5 789.0 L1352.5 789.0 L1354.5 789.0 L1356.5 789.0 L1358.5 789.0 L1360.5 789.0 L1362.5 789.0 L1364.5 789.0 L1366.5 789.0 L1368.5 789.0 L1370.5 789.0 L1372.5 789.0 L1374.5 789.0 L1376.5 789.0 L1378.5 789.0 L1380.5 789.0 L1382.5 789.0 L1384.5 789.0 L1386.5 789.0 L1388.5 789.0 L1390.5 789.0 L1392.5 789.0 L1394.5 789.0 L1396.5 789.0 L1398.5 789.0 L1400.5 789.0 L1402.5 789.0 L1404.5 789.0 L1406.5 789.0 L1408.5 789.0 L1410.5 789.0 L1412.5 789.0 L1414.5 789.0 L1416.5 789.0 L1418.5 789.0 L1420.5 789.0 L1422.5 789.0 L1424.5 789.0 L1426.5 789.0 L1428.5 789.0 L1430.5 789.0 L1432.5 789.0 L1434.5 789.0 L1436.5 789.0 L1438.5 789.0 L1440.5 789.0 L1442.5 789.0 L1444.5 789.0 L1446.5 789.0 L1448.5 789.0 L1450.5 789.0 L1452.5 789.0 L1454.5 789.0 L1456.5 789.0 L1458.5 789.0 L1460.5 789.0 L1462.5 789.0 L1464.5 789.0 L1466.5 789.0 L1468.5 789.0 L1470.5 789.0 L1472.5 789.0 L1474.5 789.0 L1476.5 789.0 L1478.5 789.0 L1480.5 789.0 L1482.5 789.0 L1484.5 789.0 L1486.5 789.0 L1488.5 789.0 L1490.5 789.0 L1492.5 789.0 L1494.5 789.0 L1496.5 789.0 L1498.5 789.0 L1500.5 789.0 L1502.5 789.0 L1504.5 789.0 L1506.5 789.0 L1508.5 789.0 L1510.5 789.0 L1512.5 789.0 L1514.5 789.0 L1516.5 789.0 L1518.5 789.0 L1520.5 789.0 L1522.5 789.0 L1524.5 789.0 L1526.5 789.0 L1528.5 789.0 L1530.5 789.0 L1532.5 789.0 L1534.5 789.0 L1536.5 789.0 L1538.5 789.0 L1540.5 789.0 L1542.5 789.0 L1544.5 789.0 L1546.5 789.0 L1548.5 789.0 L1550.5 789.0 L1552.5 789.0 L1554.5 789.0 L1556.5 789.0 L1558.5 789.0 L1560.5 789.0 L1562.5 789.0 L1564.5 789.0 L1566.5 789.0 L1568.5 789.0 L1570.5 789.0 L1572.5 789.0 L1574.5 789.0 L1576.5 789.0 L1578.5 789.0 L1580.5 789.0 L1582.5 789.0 L1584.5 789.0 L1586.5 789.0 L1588.5 789.0 L1590.5 789.0 L1592.5 789.0 L1594.5 789.0 L1596.5 789.0 L1598.5 789.0 L1600.5 789.0 L1602.5 789.0 L1604.5 789.0" stroke="#00CCF8"/>
<path d="M242.5 477.4 L244.5 472.1 L246.5 466.9 L248.5 461.8 L250.5 456.7 L252.5 451.7 L254.5 446.8 L256.5 442.1 L258.5 437.4 L260.5 432.8 L262.5 428.4 L264.5 424.1 L266.5 420.0 L268.5 416.0 L270.5 412.1 L272.5 408.5 L274.5 404.9 L276.5 401.6 L278.5 398.4 L280.5 395.4 L282.5 392.6 L284.5 389.9 L286.5 387.5 L288.5 385.2 L290.5 383.1 L292.5 381.2 L294.5 379.4 L296.5 377.8 L298.5 376.4 L300.5 375.2 L302.5 374.1 L304.5 373.2 L306.5 372.5 L308.5 371.8 L310.5 371.3 L312.5 370.9 L314.5 370.7 L316.5 370.5 L318.5 370.4 L320.5 370.4 L322.5 370.5 L324.5 370.6 L326.5 370.7 L328.5 370.9 L330.5 371.1 L332.5 371.3 L334.5 371.4 L336.5 371.6 L338.5 371.7 L340.5 371.7 L342.5 371.7 L344.5 371.7 L346.5 371.5 L348.5 371.3 L350.5 371.0 L352.5 370.5 L354.5 370.0 L356.5 369.4 L358.5 368.6 L360.5 367.6 L362.5 366.6 L364.5 365.4 L366.5 364.0 L368.5 362.4 L370.5 360.7 L372.5 358.8 L374.5 356.6 L376.5 354.3 L378.5 351.8 L380.5 349.1 L382.5 346.1 L384.5 342.9 L386.5 339.5 L388.5 335.9 L390.5 332.0 L392.5 328.0 L394.5 323.7 L396.5 319.2 L398.5 314.5 L400.5 309.7 L402.5 304.7 L404.5 299.5 L406.5 294.2 L408.5 288.7 L410.5 283.2 L412.5 277.6 L414.5 271.9 L416.5 266.1 L418.5 260.3 L420.5 254.6 L422.5 248.8 L424.5 243.1 L426.5 237.4 L428.5 231.9 L430.5 226.4 L432.5 221.0 L434.5 215.8 L436.5 210.8 L438.5 205.9 L440.5 201.2 L442.5 196.8 L444.5 192.6 L446.5 188.6 L448.5 184.9 L450.5 181.5 L452.5 178.4 L454.5 175.6 L456.5 173.1 L458.5 171.0 L460.5 169.1 L462.5 167.7 L464.5 166.5 L466.5 165.7 L468.5 165.3 L470.5 165.2 L472.5 165.4 L474.5 166.0 L476.5 166.9 L478.5 168.1 L480.5 169.6 L482.5 171.5 L484.5 173.6 L486.5 176.0 L488.5 178.6 L490.5 181.5 L492.5 184.7 L494.5 188.0 L496.5 191.6 L498.5 195.4 L500.5 199.4 L502.5 203.5 L504.5 207.9 L506.5 212.5 L508.5 217.3 L510.5 222.2 L512.5 227.4 L514.5 232.9 L516.5 238.5 L518.5 244.5 L520.5 250.7 L522.5 257.1 L524.5 263.9 L526.5 270.9 L528.5 278.2 L530.5 285.8 L532.5 293.6 L534.5 301.7 L536.5 310.0 L538.5 318.5 L540.5 327.2 L542.5 336.1 L544.5 345.0 L546.5 354.0 L548.5 363.1 L550.5 372.1 L552.5 381.1 L554.5 390.0 L556.5 398.8 L558.5 407.4 L560.5 415.9 L562.5 424.2 L564.5 432.2 L566.5 440.0 L568.5 447.6 L570.5 454.9 L572.5 461.9 L574.5 468.7 L576.5 475.2 L578.5 481.4 L580.5 487.3 L582.5 493.0 L584.5 498.4 L586.5 503.6 L588.5 508.5 L590.5 513.1 L592.5 517.5 L594.5 521.7 L596.5 525.6 L598.5 529.3 L600.5 532.7 L602.5 535.9 L604.5 538.9 L606.5 541.7 L608.5 544.2 L610.5 546.5 L612.5 548.6 L614.5 550.5 L616.5 552.2 L618.5 553.7 L620.5 554.9 L622.5 556.0 L624.5 556.9 L626.5 557.5 L628.5 558.0 L630.5 558.3 L632.5 558.4 L634.5 558.3 L636.5 558.1 L638.5 557.7 L640.5 557.1 L642.5 556.3 L644.5 555.4 L646.5 554.3 L648.5 553.1 L650.5 551.7 L652.5 550.2 L654.5 548.6 L656.5 546.8 L658.5 544.9 L660.5 542.9 L662.5 540.7 L664.5 538.5 L666.5 536.1 L668.5 533.6 L670.5 531.1 L672.5 528.4 L674.5 525.6 L676.5 522.8 L678.5 519.9 L680.5 516.9 L682.5 513.8 L684.5 510.6 L686.5 507.4 L688.5 504.2 L690.5 500.8 L692.5 497.5 L694.5 494.0 L696.5 490.6 L698.5 487.1 L700.5 483.5 L702.5 480.0 L704.5 476.4 L706.5 472.8 L708.5 469.1 L710.5 465.5 L712.5 461.8 L714.5 458.2 L716.5 454.5 L718.5 450.9 L720.5 447.2 L722.5 443.6 L724.5 440.0 L726.5 436.4 L728.5 432.8 L730.5 429.3 L732.5 425.8 L734.5 422.3 L736.5 418.9 L738.5 415.5 L740.5 412.2 L742.5 408.9 L744.5 405.7 L746.5 402.5 L748.5 399.5 L750.5 396.4 L752.5 393.5 L754.5 390.6 L756.5 387.8 L758.5 385.1 L760.5 382.5 L762.5 380.0 L764.5 377.5 L766.5 375.2 L768.5 372.9 L770.5 370.8 L772.5 368.8 L774.5 366.8 L776.5 365.0 L778.5 363.3 L780.5 361.8 L782.5 360.3 L784.5 359.0 L786.5 357.8 L788.5 356.7 L790.5 355.7 L792.5 354.9 L794.5 354.2 L796.5 353.6 L798.5 353.2 L800.5 352.9 L802.5 352.7 L804.5 352.6 L806.5 352.7 L808.5 353.0 L810.5 353.3 L812.5 353.8 L814.5 354.4 L816.5 355.2 L818.5 356.1 L820.5 357.1 L822.5 358.2 L824.5 359.5 L826.5 360.9 L828.5 362.4 L830.5 364.0 L832.5 365.8 L834.5 367.6 L836.5 369.6 L838.5 371.7 L840.5 373.9 L842.5 376.2 L844.5 378.6 L846.5 381.0 L848.5 383.6 L850.5 386.3 L852.5 389.0 L854.5 391.8 L856.5 394.7 L858.5 397.7 L860.5 400.7 L862.5 403.8 L864.5 406.9 L866.5 410.0 L868.5 413.2 L870.5 416.5 L872.5 419.7 L874.5 423.0 L876.5 426.3 L878.5 429.6 L880.5 433.0 L882.5 436.3 L884.5 439.6 L886.5 442.9 L888.5 446.2 L890.5 449.5 L892.5 452.7 L894.5 456.0 L896.5 459.2 L898.5 462.4 L900.5 465.6 L902.5 468.7 L904.5 471.9 L906.5 475.0 L908.5 478.1 L910.5 481.2 L912.5 484.2 L914.5 487.3 L916.5 490.3 L918.5 493.4 L920.5 496.4 L922.5 499.4 L924.5 502.4 L926.5 505.4 L928.5 508.4 L930.5 511.4 L932.5 514.3 L934.5 517.3 L936.5 520.2 L938.5 523.1 L940.5 526.0 L942.5 528.8 L944.5 531.6 L946.5 534.4 L948.5 537.1 L950.5 539.7 L952.5 542.3 L954.5 544.8 L956.5 547.3 L958.5 549.7 L960.5 552.0 L962.5 554.2 L964.5 556.4 L966.5 558.4 L968.5 560.4 L970.5 562.3 L972.5 564.1 L974.5 565.9 L976.5 567.5 L978.5 569.1 L980.5 570.6 L982.5 572.1 L984.5 573.4 L986.5 574.7 L988.5 575.9 L990.5 577.1 L992.5 578.2 L994.5 579.2 L996.5 580.2 L998.5 581.1 L1000.5 582.0 L1002.5 582.8 L1004.5 583.6 L1006.5 584.4 L1008.5 585.1 L1010.5 585.8 L1012.5 586.4 L1014.5 587.0 L1016.5 587.6 L1018.5 588.1 L1020.5 588.7 L1022.5 589.2 L1024.5 589.6 L1026.5 590.1 L1028.5 590.5 L1030.5 590.9 L1032.5 591.3 L1034.5 591.7 L1036.5 592.1 L1038.5 592.5 L1040.5 592.8 L1042.5 593.2 L1044.5 593.5 L1046.5 593.8 L1048.5 594.2 L1050.5 594.5 L1052.5 594.8 L1054.5 595.2 L1056.5 595.5 L1058.5 595.8 L1060.5 596.1 L1062.5 596.5 L1064.5 596.8 L1066.5 597.2 L1068.5 597.5 L1070.5 597.9 L1072.5 598.3 L1074.5 598.6 L1076.5 599.0 L1078.5 599.4 L1080.5 599.8 L1082.5 600.2 L1084.5 600.7 L1086.5 601.1 L1088.5 601.6 L1090.5 602.0 L1092.5 602.5 L1094.5 603.0 L1096.5 603.5 L1098.5 604.1 L1100.5 604.6 L1102.5 605.2 L1104.5 605.7 L1106.5 606.3 L1108.5 606.9 L1110.5 607.5 L1112.5 608.2 L1114.5 608.8 L1116.5 609.5 L1118.5 610.1 L1120.5 610.8 L1122.5 611.5 L1124.5 612.2 L1126.5 612.9 L1128.5 613.7 L1130.5 614.4 L1132.5 615.2 L1134.5 616.0 L1136.5 616.8 L1138.5 617.6 L1140.5 618.4 L1142.5 619.2 L1144.5 620.1 L1146.5 620.9 L1148.5 621.8 L1150.5 622.7 L1152.5 623.6 L1154.5 624.4 L1156.5 625.3 L1158.5 626.3 L1160.5 627.2 L1162.5 628.1 L1164.5 629.0 L1166.5 630.0 L1168.5 630.9 L1170.5 631.9 L1172.5 632.8 L1174.5 633.8 L1176.5 634.7 L1178.5 635.7 L1180.5 636.7 L1182.5 637.7 L1184.5 638.7 L1186.5 639.6 L1188.5 640.6 L1190.5 641.6 L1192.5 642.6 L1194.5 643.6 L1196.5 644.6 L1198.5 645.6 L1200.5 646.6 L1202.5 647.5 L1204.5 648.5 L1206.5 649.5 L1208.5 650.5 L1210.5 651.5 L1212.5 652.5 L1214.5 653.4 L1216.5 654.4 L1218.5 655.4 L1220.5 656.3 L1222.5 657.3 L1224.5 658.3 L1226.5 659.2 L1228.5 660.1 L1230.5 661.1 L1232.5 662.0 L1234.5 662.9 L1236.5 663.9 L1238.5 664.8 L1240.5 665.7 L1242.5 666.6 L1244.5 667.5 L1246.5 668.4 L1248.5 669.2 L1250.5 670.1 L1252.5 671.0 L1254.5 671.8 L1256.5 672.6 L1258.5 673.5 L1260.5 674.3 L1262.5 675.1 L1264.5 675.9 L1266.5 676.7 L1268.5 677.5 L1270.5 678.3 L1272.5 679.0 L1274.5 679.8 L1276.5 680.5 L1278.5 681.2 L1280.5 682.0 L1282.5 682.7 L1284.5 683.4 L1286.5 684.0 L1288.5 684.7 L1290.5 685.4 L1292.5 686.0 L1294.5 686.7 L1296.5 687.3 L1298.5 687.9 L1300.5 688.5 L1302.5 689.1 L1304.5 689.7 L1306.5 690.3 L1308.5 690.8 L1310.5 691.4 L1312.5 691.9 L1314.5 692.4 L1316.5 693.0 L1318.5 693.5 L1320.5 693.9 L1322.5 694.4 L1324.5 694.9 L1326.5 695.4 L1328.5 695.8 L1330.5 696.2 L1332.5 696.7 L1334.5 697.1 L1336.5 697.5 L1338.5 697.9 L1340.5 698.3 L1342.5 698.6 L1344.5 699.0 L1346.5 699.4 L1348.5 699.7 L1350.5 700.0 L1352.5 700.4 L1354.5 700.7 L1356.5 701.0 L1358.5 701.3 L1360.5 701.6 L1362.5 701.8 L1364.5 702.1 L1366.5 702.4 L1368.5 702.6 L1370.5 702.9 L1372.5 703.1 L1374.5 703.3 L1376.5 703.5 L1378.5 703.8 L1380.5 704.0 L1382.5 704.2 L1384.5 704.3 L1386.5 704.5 L1388.5 704.7 L1390.5 704.9 L1392.5 705.0 L1394.5 705.2 L1396.5 705.4 L1398.5 705.5 L1400.5 705.6 L1402.5 705.8 L1404.5 705.9 L1406.5 706.0 L1408.5 706.1 L1410.5 706.3 L1412.5 706.4 L1414.5 706.5 L1416.5 706.6 L1418.5 706.7 L1420.5 706.8 L1422.5 706.9 L1424.5 706.9 L1426.5 707.0 L1428.5 707.1 L1430.5 707.2 L1432.5 707.2 L1434.5 707.3 L1436.5 707.4 L1438.5 707.4 L1440.5 707.5 L1442.5 707.5 L1444.5 707.6 L1446.5 707.6 L1448.5 707.7 L1450.5 707.7 L1452.5 707.8 L1454.5 707.8 L1456.5 707.9 L1458.5 707.9 L1460.5 707.9 L1462.5 708.0 L1464.5 708.0 L1466.5 708.0 L1468.5 708.0 L1470.5 708.1 L1472.5 708.1 L1474.5 708.1 L1476.5 708.1 L1478.5 708.2 L1480.5 708.2 L1482.5 708.2 L1484.5 708.2 L1486.5 708.2 L1488.5 708.2 L1490.5 708.3 L1492.5 708.3 L1494.5 708.3 L1496.5 708.3 L1498.5 708.3 L1500.5 708.3 L1502.5 708.3 L1504.5 708.3 L1506.5 708.3 L1508.5 708.4 L1510.5 708.4 L1512.5 708.4 L1514.5 708.4 L1516.5 708.4 L1518.5 708.4 L1520.5 708.4 L1522.5 708.4 L1524.5 708.4 L1526.5 708.4 L1528.5 708.4 L1530.5 708.4 L1532.5 708.4 L1534.5 708.4 L1536.5 708.4 L1538.5 708.4 L1540.5 708.4 L1542.5 708.4 L1544.5 708.4 L1546.5 708.4 L1548.5 708.4 L1550.5 708.4 L1552.5 708.4 L1554.5 708.4 L1556.5 708.4 L1558.5 708.4 L1560.5 708.5 L1562.5 708.5 L1564.5 708.5 L1566.5 708.5 L1568.5 708.5 L1570.5 708.5 L1572.5 708.5 L1574.5 708.5 L1576.5 708.5 L1578.5 708.5 L1580.5 708.5 L1582.5 708.5 L1584.5 708.5 L1586.5 708.5 L1588.5 708.5 L1590.5 708.5 L1592.5 708.5 L1594.5 708.5 L1596.5 708.5 L1598.5 708.5 L1600.5 708.5 L1602.5 708.5 L1604.5 708.5" stroke="#000000"/>
</g>
<g stroke="#000" stroke-width="5" fill="none">
<rect x="246.5" y="30" width="1355.0" height="759"/>
<line x1="246.5" y1="734.7" x2="261.5" y2="734.7"/>
<line x1="246.5" y1="680.5" x2="261.5" y2="680.5"/>
<line x1="246.5" y1="623.5" x2="261.5" y2="623.5"/>
<line x1="246.5" y1="572.0" x2="261.5" y2="572.0"/>
<line x1="246.5" y1="517.7" x2="268.5" y2="517.7"/>
<line x1="246.5" y1="463.4" x2="261.5" y2="463.4"/>
<line x1="246.5" y1="409.2" x2="261.5" y2="409.2"/>
<line x1="246.5" y1="354.9" x2="261.5" y2="354.9"/>
<line x1="246.5" y1="300.7" x2="261.5" y2="300.7"/>
<line x1="246.5" y1="246.4" x2="268.5" y2="246.4"/>
<line x1="246.5" y1="192.1" x2="261.5" y2="192.1"/>
<line x1="246.5" y1="137.9" x2="261.5" y2="137.9"/>
<line x1="246.5" y1="83.6" x2="261.5" y2="83.6"/>
<line x1="415.9" y1="789" x2="415.9" y2="773"/>
<line x1="585.2" y1="789" x2="585.2" y2="767"/>
<line x1="754.6" y1="789" x2="754.6" y2="773"/>
<line x1="924.0" y1="789" x2="924.0" y2="767"/>
<line x1="1093.4" y1="789" x2="1093.4" y2="773"/>
<line x1="1262.8" y1="789" x2="1262.8" y2="767"/>
<line x1="1432.1" y1="789" x2="1432.1" y2="773"/>
</g>
<g font-family="'Liberation Sans', Arial, sans-serif" font-size="77.5" fill="#000">
<text transform="translate(207.9 813.4) scale(0.965 1)" text-anchor="end">0</text>
<text transform="translate(209.2 542.3) scale(0.965 1)" text-anchor="end">0.5</text>
<text transform="translate(214.8 269.8) scale(1.15 1)" text-anchor="end" clip-path="url(#c1)">1</text>
<text transform="translate(246.3 883.5) scale(0.965 1)" text-anchor="middle">300</text>
<text transform="translate(585.4 883.5) scale(0.965 1)" text-anchor="middle">350</text>
<text transform="translate(924.1 883.5) scale(0.965 1)" text-anchor="middle">400</text>
<text transform="translate(1262.8 883.5) scale(0.965 1)" text-anchor="middle">450</text>
<text transform="translate(1581.2 883.5) scale(0.965 1)" text-anchor="middle">500</text>
</g>
<text font-family="'Liberation Sans', Arial, sans-serif" font-size="77" transform="translate(72.0 681.2) rotate(-90) scale(1.006 0.99)" fill="#000">Absorbance</text>
<text font-family="'Noto Serif CJK SC', 'Liberation Serif', serif" font-weight="500" font-size="67.9" transform="translate(828.5 989) scale(0.984 1)" fill="#000">λ</text>
<text font-family="'Liberation Sans', Arial, sans-serif" font-size="80" transform="translate(868 989) scale(1.012 1)" fill="#000">,<tspan dx="0.4"> nm</tspan></text>
<g stroke-width="8" fill="none">
<line x1="1035.5" y1="79.1" x2="1184" y2="79.1" stroke="#05A94C"/>
<line x1="1035.5" y1="126.2" x2="1184" y2="126.2" stroke="#0000FF"/>
<line x1="1035.5" y1="173.0" x2="1184" y2="173.0" stroke="#A33A34"/>
<line x1="1035.5" y1="216.2" x2="1184" y2="216.2" stroke="#8CD24A"/>
<line x1="1035.5" y1="259.8" x2="1184" y2="259.8" stroke="#9500FF"/>
<line x1="1035.5" y1="305.0" x2="1184" y2="305.0" stroke="#00CCF8"/>
<line x1="1035.5" y1="350.0" x2="1184" y2="350.0" stroke="#000000"/>
</g>
<g font-family="'Liberation Sans', Arial, sans-serif" font-size="39.5" font-weight="bold" fill="#000">
<text xml:space="preserve" transform="translate(1208.1 85.3) scale(0.9837 1)"><tspan font-style="italic">trans</tspan>-Rotamer </text>
<g transform="translate(1210.1 85.3) scale(0.9837 1)"><text x="280.95" y="0" clip-path="url(#c1b_0)">1</text></g>
<text xml:space="preserve" transform="translate(1210.0 134.8) scale(0.9730 1)"><tspan font-style="italic">trans</tspan>-Rotamer 2</text>
<text xml:space="preserve" transform="translate(1214.0 182.8) scale(0.9730 1)"><tspan font-style="italic">cis-trans</tspan>-Rotamer 3</text>
<text xml:space="preserve" transform="translate(1212.6 226.0) scale(0.9730 1)"><tspan font-style="italic">cis</tspan>-Rotamer 4</text>
<text xml:space="preserve" transform="translate(1212.6 269.0) scale(0.9730 1)"><tspan font-style="italic">cis</tspan>-Rotamer 5</text>
<text xml:space="preserve" transform="translate(1212.6 312.3) scale(0.9730 1)"><tspan font-style="italic">cis</tspan>-Rotamer 6</text>
<text xml:space="preserve" transform="translate(1213.9 359.6) scale(0.9730 1)">Convolution Line</text>
</g>
</svg>
</body></html>
